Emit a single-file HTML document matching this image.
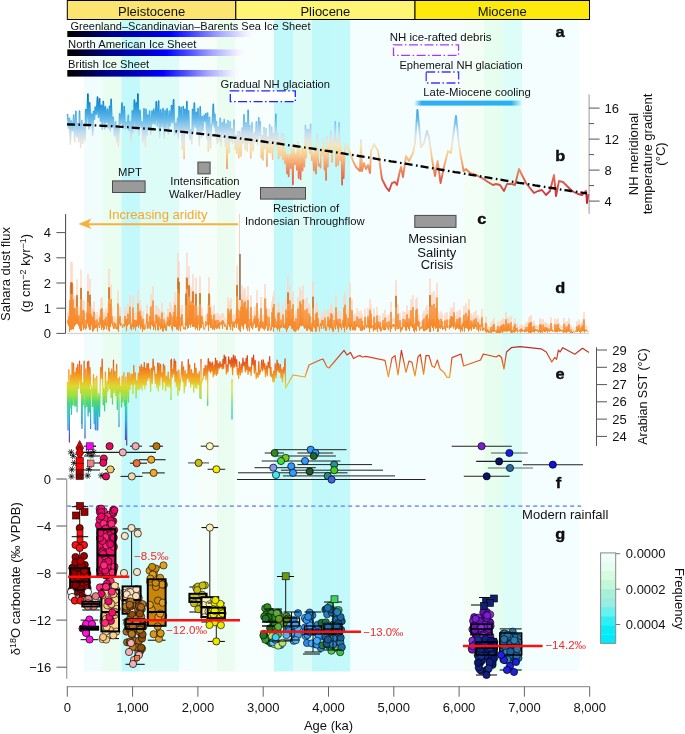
<!DOCTYPE html>
<html><head><meta charset="utf-8"><style>
html,body{margin:0;padding:0;background:#fff;width:685px;height:734px;overflow:hidden}
svg{display:block;will-change:transform;font-variant-ligatures:none;font-family:'Liberation Sans',sans-serif}
</style></head><body>
<svg width="685" height="734" viewBox="0 0 685 734" fill="#111">
<rect x="83.7" y="20" width="18.3" height="651.5" fill="#f1fdfd"/>
<rect x="102" y="20" width="19.5" height="651.5" fill="#eafdf1"/>
<rect x="121.5" y="20" width="18.8" height="651.5" fill="#c3f9fb"/>
<rect x="140.3" y="20" width="38.7" height="651.5" fill="#ddfcf8"/>
<rect x="179" y="20" width="18.6" height="651.5" fill="#f3fefe"/>
<rect x="197.6" y="20" width="19.4" height="651.5" fill="#f5fef8"/>
<rect x="217" y="20" width="18.6" height="651.5" fill="#ebfdf1"/>
<rect x="235.6" y="20" width="38.4" height="651.5" fill="#f7fefe"/>
<rect x="274" y="20" width="19" height="651.5" fill="#c1f9fb"/>
<rect x="293" y="20" width="19" height="651.5" fill="#ddfcf8"/>
<rect x="312" y="20" width="19" height="651.5" fill="#c1f9fb"/>
<rect x="331" y="20" width="19.4" height="651.5" fill="#c4f9fb"/>
<rect x="350.4" y="20" width="113.6" height="651.5" fill="#f5fefe"/>
<rect x="464" y="20" width="20" height="651.5" fill="#f3fef6"/>
<rect x="484" y="20" width="19" height="651.5" fill="#e7fdef"/>
<rect x="503" y="20" width="19" height="651.5" fill="#dcfdf8"/>
<rect x="522" y="20" width="57.6" height="651.5" fill="#f5fefe"/>
<rect x="67.3" y="0.5" width="168.5" height="19" fill="#fbe46f" stroke="#000" stroke-width="1"/>
<text x="151.6" y="15.7" font-size="13.5" text-anchor="middle" textLength="67.2" lengthAdjust="spacingAndGlyphs">Pleistocene</text>
<rect x="235.8" y="0.5" width="179.2" height="19" fill="#fdf573" stroke="#000" stroke-width="1"/>
<text x="325.4" y="15.7" font-size="13.5" text-anchor="middle" textLength="49.9" lengthAdjust="spacingAndGlyphs">Pliocene</text>
<rect x="415" y="0.5" width="174.5" height="19" fill="#fdea0d" stroke="#000" stroke-width="1"/>
<text x="502.2" y="15.7" font-size="13.5" text-anchor="middle" textLength="49.1" lengthAdjust="spacingAndGlyphs">Miocene</text>
<defs><linearGradient id="ice" x1="0" x2="1" y1="0" y2="0"><stop offset="0" stop-color="#000"/><stop offset="0.026" stop-color="#000008"/><stop offset="0.226" stop-color="#000088"/><stop offset="0.437" stop-color="#0000c8"/><stop offset="0.547" stop-color="#0000ff"/><stop offset="0.668" stop-color="#4a4aff"/><stop offset="0.805" stop-color="#a8a8ff"/><stop offset="0.942" stop-color="#f0f0ff"/><stop offset="1" stop-color="#fff" stop-opacity="0"/></linearGradient></defs>
<rect x="67.3" y="31" width="189.7" height="6" fill="url(#ice)"/>
<text x="70.5" y="30.1" font-size="11" textLength="240" lengthAdjust="spacingAndGlyphs">Greenland–Scandinavian–Barents Sea Ice Sheet</text>
<rect x="67.3" y="49.4" width="180.7" height="6.6" fill="url(#ice)"/>
<text x="68.1" y="47.8" font-size="11" textLength="128.4" lengthAdjust="spacingAndGlyphs">North American Ice Sheet</text>
<rect x="67.3" y="70" width="174.7" height="6.6" fill="url(#ice)"/>
<text x="68.1" y="68" font-size="11" textLength="81.1" lengthAdjust="spacingAndGlyphs">British Ice Sheet</text>
<text x="220.5" y="87.6" font-size="11" textLength="109.6" lengthAdjust="spacingAndGlyphs">Gradual NH glaciation</text>
<rect x="230.3" y="90.9" width="65" height="10.8" fill="#fff" stroke="#2222ff" stroke-width="1.3" stroke-dasharray="9 2.5 1.5 2.5"/>
<text x="389.7" y="41" font-size="11" textLength="101.8" lengthAdjust="spacingAndGlyphs">NH ice-rafted debris</text>
<rect x="393.5" y="44.8" width="65" height="10.6" fill="#fff" stroke="#a23cf0" stroke-width="1.3" stroke-dasharray="9 2.5 1.5 2.5"/>
<text x="399.4" y="68.7" font-size="11" textLength="123.3" lengthAdjust="spacingAndGlyphs">Ephemeral NH glaciation</text>
<rect x="426.2" y="72" width="32.4" height="11" fill="#fff" stroke="#3c3cff" stroke-width="1.3" stroke-dasharray="9 2.5 1.5 2.5"/>
<text x="423.3" y="95.6" font-size="11" textLength="107.6" lengthAdjust="spacingAndGlyphs">Late-Miocene cooling</text>
<defs><linearGradient id="cool" x1="0" x2="1" y1="0" y2="0"><stop offset="0" stop-color="#2cb0f2" stop-opacity="0"/><stop offset="0.07" stop-color="#2cb0f2"/><stop offset="0.9" stop-color="#2cb0f2"/><stop offset="1" stop-color="#2cb0f2" stop-opacity="0"/></linearGradient></defs>
<rect x="414" y="100.6" width="108" height="5" fill="url(#cool)"/>
<text transform="translate(555.4,37.2) scale(1.12,1)" font-size="14.6" font-weight="bold" stroke="#000" stroke-width="0.35">a</text>
<defs><linearGradient id="bgrad" gradientUnits="userSpaceOnUse" x1="0" y1="95" x2="0" y2="205"><stop offset="0.000" stop-color="#0a62b0"/><stop offset="0.055" stop-color="#1484cc"/><stop offset="0.136" stop-color="#36a2e0"/><stop offset="0.209" stop-color="#5eb6e8"/><stop offset="0.282" stop-color="#96ccec"/><stop offset="0.345" stop-color="#c6def0"/><stop offset="0.409" stop-color="#e2e4e0"/><stop offset="0.455" stop-color="#eee6cc"/><stop offset="0.500" stop-color="#f8dca0"/><stop offset="0.555" stop-color="#f8c890"/><stop offset="0.618" stop-color="#f4a870"/><stop offset="0.700" stop-color="#ec8058"/><stop offset="0.791" stop-color="#e05a48"/><stop offset="0.882" stop-color="#d43c40"/><stop offset="1.000" stop-color="#c01830"/></linearGradient></defs>
<path d="M67.5 114 L68.5 128.2 L69.5 118.4 L70.4 144.2 L71.3 120.9 L72.6 130.8 L73.7 115.1 L74.7 141.8 L75.9 111.3 L76.8 136.5 L77.8 123.6 L78.6 141.7 L79.5 111 L80.7 147.2 L81.9 120.5 L82.8 143.2 L84 125.4 L85 140.7 L85.7 109.5 L86.7 122.9 L87.9 94 L89 128.9 L89.7 102.8 L90.8 123.9 L91.6 114.1 L92.7 135.3 L93.4 111.4 L94.5 119.1 L95.2 107 L96.3 114.2 L97.5 97.1 L98.4 117.5 L99.6 98.7 L100.4 121.2 L101.4 105.3 L102.2 129.1 L103.3 101.6 L104.6 129.1 L105.3 106.5 L106.5 122.1 L107.4 109.1 L108.4 128.1 L109.5 106.4 L110.3 130.9 L111.1 99.4 L112.1 126.1 L113.2 117.2 L114.5 135.7 L115.6 121.7 L116.8 141.8 L117.6 128.5 L118.4 146.3 L119.6 113.8 L120.8 123.9 L122 103 L123 128.4 L124.2 106.6 L125.3 129.1 L126.3 122.5 L127.2 126.1 L128.3 115.3 L129 130.6 L130 121.5 L131.1 141.9 L132.3 110.8 L133.1 132.8 L134.4 100 L135.5 129.7 L136.3 102.7 L137.1 129.5 L137.9 94 L138.9 135.3 L140 110.3 L141.1 127.3 L142.1 122.1 L143 141.9 L144 108.7 L145.3 146.8 L146 109.3 L147 135.3 L147.7 115.1 L148.5 128.4 L149.6 111.1 L150.7 134.5 L152 111 L153 123.7 L153.8 109.2 L155.1 124.2 L156.2 101.8 L157.3 126.4 L158.6 101 L159.7 137.2 L160.7 109.9 L161.7 126.6 L163 108.5 L164.2 138.5 L165.1 110.5 L165.8 129.1 L167.1 108.9 L168.4 134.1 L169.3 111.1 L170.3 125.8 L171.6 105.6 L172.4 122.8 L173.6 99.7 L174.7 134.6 L176 123.2 L176.9 133.7 L177.6 118.4 L178.4 138.5 L179.1 106.6 L180.1 130.8 L181.1 107.2 L182.2 149.2 L183.2 106.5 L184.1 158.6 L184.9 109.2 L185.8 131.9 L186.9 101.6 L187.6 133.2 L188.6 110.9 L189.7 139.4 L190.7 129.5 L191.8 143.9 L192.5 109.4 L193.3 131.3 L194.3 103.1 L195.4 127.1 L196.4 112.2 L197.2 132 L198 108.5 L199.2 145.3 L200.2 106.7 L201.4 137.8 L202.2 116.5 L202.9 130.4 L204.1 115.3 L204.9 120.9 L205.8 113.5 L206.9 138.6 L207.6 113.1 L208.3 151 L209.5 117.4 L210.6 148 L211.4 125 L212.2 124.1 L213.3 104.4 L214.2 126.8 L214.9 114.2 L215.7 133.9 L216.5 121.6 L217.2 143.6 L218.3 127 L219.2 141.3 L220.2 118.3 L221 146.3 L222.2 122.5 L223.3 134.2 L224.2 119.6 L225.4 146.3 L226.2 123.7 L227 168.4 L228 120.5 L228.9 152.4 L230.1 121.7 L231 141.6 L231.8 129.1 L232.8 143.5 L234 120.1 L235.2 149.2 L236 135.8 L236.7 153.2 L237.8 131.6 L238.8 157.7 L239.8 131.6 L241 156.3 L242.1 128 L242.9 143.8 L244 114.7 L245.2 149.3 L246 122.5 L247.2 150.9 L248.1 110.3 L249.3 143.3 L250 125.5 L250.8 158.1 L252 122.8 L253.1 150.8 L254.4 132.9 L255.2 141.8 L256.4 121.9 L257.7 145 L258.8 117.8 L259.5 135.2 L260.3 122 L261.2 157.7 L262 135.3 L263 159.9 L264 127.6 L265.1 148.7 L266.1 128.8 L266.9 166.2 L267.8 137.1 L268.9 152.4 L269.7 124.8 L270.6 153 L271.8 127.4 L272.7 159.2 L273.6 133.3 L274.7 145.6 L275.9 114.4 L276.7 148.1 L277.6 132.8 L278.6 158.5 L279.4 140.8 L280.6 155.4 L281.6 133 L282.8 159.7 L283.9 134.3 L285 163.1 L285.8 152.4 L287 173.5 L287.8 154.8 L288.6 176.4 L289.8 154.7 L290.9 168.1 L291.8 144.3 L292.9 184.5 L293.8 148.2 L294.9 164.4 L296 153.6 L296.8 170 L297.8 141.7 L298.6 178.1 L299.4 149.5 L300.6 179.5 L301.7 146.6 L302.6 170.8 L303.3 148.4 L304.4 166.7 L305.4 125.5 L306.2 157.8 L307.2 129.3 L307.9 147.9 L308.8 129.9 L309.8 153.2 L310.6 124.4 L311.6 160.1 L312.7 153.2 L313.9 170.6 L314.9 147.7 L316 173.7 L317.2 134.3 L318.5 165.9 L319.8 164 L320.5 167.7 L321.3 149.5 L322.2 155.2 L323.4 138.1 L324.5 169.7 L325.2 149 L326.1 180.1 L326.8 136.3 L327.8 166.7 L328.6 142.3 L329.7 150.4 L330.8 131.8 L332.1 161.8 L333 138.8 L334.2 148.5 L335.3 121.9 L336.1 166.2 L337.2 139.6 L338.3 165 L339.1 122.8 L340.1 160.1 L341.2 146 L342.1 184.8 L343 153.9 L343.7 178.3 L344.9 148.1 L345 143" fill="none" stroke="url(#bgrad)" stroke-width="1.6" stroke-linejoin="round"/>
<path d="M345 143 L348 147 L353 161 L356 167 L360 171 L361 140 L362 171 L364 163 L366 169 L368 165 L370 173 L371 151 L374 144 L378 151 L380 165 L382 179 L386 187 L389 191 L392 183 L395 182 L397 185 L399 175 L401 167 L403 177 L406 156 L409 161 L413 153 L415 143 L417.4 110 L419 125 L421 147 L424 143 L427 131 L429 137 L432 159 L435 176 L437.6 161 L440.6 183 L444 167 L448 151 L451 153 L453 137 L456 116 L459 145 L461 157 L463.6 171 L466 169 L470 173 L476 175 L482 178 L488 182 L493 185 L496 184 L500 185 L504 191 L507 184 L512 184 L515 185 L519 169 L526 183 L530 188 L534 193 L538 191 L542 190 L546 195 L550 191 L554 175 L556 196 L559 181 L563 182 L568 187 L572 191 L578 194 L582 195 L586 191 L587 203 L588.5 194" fill="none" stroke="url(#bgrad)" stroke-width="1.9" stroke-linejoin="round"/>
<path d="M67 124.4 L71 124.5 L75 124.6 L79 124.7 L83 124.9 L87 125 L91 125.2 L95 125.4 L99 125.6 L103 125.8 L107 126 L111 126.2 L115 126.4 L119 126.7 L123 126.9 L127 127.2 L131 127.5 L135 127.8 L139 128.1 L143 128.4 L147 128.7 L151 129 L155 129.4 L159 129.7 L163 130 L167 130.4 L171 130.8 L175 131.2 L179 131.6 L183 131.9 L187 132.4 L191 132.8 L195 133.2 L199 133.6 L203 134.1 L207 134.5 L211 135 L215 135.4 L219 135.9 L223 136.4 L227 136.9 L231 137.3 L235 137.8 L239 138.3 L243 138.9 L247 139.4 L251 139.9 L255 140.4 L259 141 L263 141.5 L267 142.1 L271 142.6 L275 143.2 L279 143.7 L283 144.3 L287 144.9 L291 145.5 L295 146 L299 146.6 L303 147.2 L307 147.8 L311 148.4 L315 149 L319 149.7 L323 150.3 L327 150.9 L331 151.5 L335 152.1 L339 152.8 L343 153.4 L347 154.1 L351 154.7 L355 155.3 L359 156 L363 156.6 L367 157.3 L371 157.9 L375 158.6 L379 159.3 L383 159.9 L387 160.6 L391 161.3 L395 161.9 L399 162.6 L403 163.3 L407 163.9 L411 164.6 L415 165.3 L419 166 L423 166.6 L427 167.3 L431 168 L435 168.7 L439 169.3 L443 170 L447 170.7 L451 171.4 L455 172.1 L459 172.7 L463 173.4 L467 174.1 L471 174.8 L475 175.4 L479 176.1 L483 176.8 L487 177.4 L491 178.1 L495 178.8 L499 179.5 L503 180.1 L507 180.8 L511 181.4 L515 182.1 L519 182.8 L523 183.4 L527 184.1 L531 184.7 L535 185.4 L539 186 L543 186.6 L547 187.3 L551 187.9 L555 188.5 L559 189.2 L563 189.8 L567 190.4 L571 191 L575 191.6 L579 192.2 L583 192.8 L587 193.4" fill="none" stroke="#000" stroke-width="2.3" stroke-dasharray="8 3.5 1.6 3.1"/>
<line x1="589.1" y1="94.4" x2="589.1" y2="213.8" stroke="#999" stroke-width="1"/>
<line x1="589.1" y1="201.1" x2="599.6" y2="201.1" stroke="#555" stroke-width="1"/>
<text x="604.5" y="205.7" font-size="13">4</text>
<line x1="589.1" y1="185.6" x2="594.1" y2="185.6" stroke="#555" stroke-width="1"/>
<line x1="589.1" y1="170.1" x2="599.6" y2="170.1" stroke="#555" stroke-width="1"/>
<text x="604.5" y="174.7" font-size="13">8</text>
<line x1="589.1" y1="154.6" x2="594.1" y2="154.6" stroke="#555" stroke-width="1"/>
<line x1="589.1" y1="139.1" x2="599.6" y2="139.1" stroke="#555" stroke-width="1"/>
<text x="604.5" y="143.7" font-size="13">12</text>
<line x1="589.1" y1="123.6" x2="594.1" y2="123.6" stroke="#555" stroke-width="1"/>
<line x1="589.1" y1="108.1" x2="599.6" y2="108.1" stroke="#555" stroke-width="1"/>
<text x="604.5" y="112.7" font-size="13">16</text>
<g font-size="13" text-anchor="middle"><text transform="translate(637.5,154) rotate(-90)">NH meridional</text><text transform="translate(651.5,154) rotate(-90)">temperature gradient</text><text transform="translate(665,154) rotate(-90)">(°C)</text></g>
<text transform="translate(555.2,160.8) scale(1.12,1)" font-size="14.6" font-weight="bold" stroke="#000" stroke-width="0.35">b</text>
<rect x="112.5" y="180.9" width="32.6" height="11.6" fill="#9a9a9a" stroke="#4a4a4a" stroke-width="1"/>
<rect x="197.9" y="162.1" width="12.2" height="11.8" fill="#9a9a9a" stroke="#4a4a4a" stroke-width="1"/>
<rect x="260.5" y="187.5" width="45" height="11.6" fill="#9a9a9a" stroke="#4a4a4a" stroke-width="1"/>
<rect x="414.8" y="215.4" width="41.2" height="12" fill="#9a9a9a" stroke="#4a4a4a" stroke-width="1"/>
<text x="118.1" y="176" font-size="11" textLength="23.8" lengthAdjust="spacingAndGlyphs">MPT</text>
<text x="170.3" y="185.1" font-size="11" textLength="69.3" lengthAdjust="spacingAndGlyphs">Intensification</text>
<text x="169" y="197.6" font-size="11" textLength="71.9" lengthAdjust="spacingAndGlyphs">Walker/Hadley</text>
<text x="273.1" y="212.4" font-size="11" textLength="66" lengthAdjust="spacingAndGlyphs">Restriction of</text>
<text x="244.9" y="225" font-size="11" textLength="119.6" lengthAdjust="spacingAndGlyphs">Indonesian Throughflow</text>
<text x="408.3" y="243.2" font-size="12.5" textLength="58.2" lengthAdjust="spacingAndGlyphs">Messinian</text>
<text x="417.3" y="256.8" font-size="12.5" textLength="39.1" lengthAdjust="spacingAndGlyphs">Salinty</text>
<text x="420.7" y="269.2" font-size="12.5" textLength="32.4" lengthAdjust="spacingAndGlyphs">Crisis</text>
<text transform="translate(477.2,224.4) scale(1.12,1)" font-size="14.6" font-weight="bold" stroke="#000" stroke-width="0.35">c</text>
<text x="108.5" y="218.6" font-size="13" textLength="99" lengthAdjust="spacingAndGlyphs" fill="#f7a823">Increasing aridity</text>
<line x1="88" y1="224.2" x2="238" y2="224.2" stroke="#f9b03c" stroke-width="2"/>
<path d="M78.4 223.9 L91.4 218.6 L88.2 224 L91.4 229 Z" fill="#f9b03c"/>
<line x1="67" y1="333.4" x2="589" y2="333.4" stroke="#cfcfcf" stroke-width="1"/>
<path d="M67.5 317.5 L68 312.1 L68.5 320.7 L69 307.6 L69.5 328.7 L70 286 L70.5 325.6 L71 261.9 L71.5 326.2 L72 262.4 L72.5 325.1 L73 284.9 L73.5 325.6 L74 296.2 L74.5 321.4 L75 296.5 L75.5 319.1 L76 306.5 L76.5 317.7 L77 279.3 L77.5 318 L78 308.7 L78.5 320.2 L79 306.4 L79.5 324.5 L80 315 L80.5 327.7 L81 269.5 L81.5 327.8 L82 318.8 L82.5 318.8 L83 299.2 L83.5 325.8 L84 300.8 L84.5 323.4 L85 322.6 L85.5 325.6 L86 312.9 L86.5 324 L87 302.8 L87.5 317.6 L88 273.9 L88.5 322.5 L89 303.4 L89.5 326 L90 278.8 L90.5 326 L91 305 L91.5 319.7 L92 308 L92.5 328.4 L93 309.2 L93.5 327.7 L94 301.7 L94.5 324.7 L95 313.2 L95.5 323.5 L96 318.8 L96.5 322.9 L97 312.1 L97.5 328.4 L98 315.6 L98.5 319.2 L99 320.2 L99.5 323.5 L100 309.1 L100.5 319.2 L101 298.4 L101.5 326.4 L102 297.1 L102.5 323 L103 312.6 L103.5 326.5 L104 314.4 L104.5 325.3 L105 311.7 L105.5 320 L106 308.7 L106.5 325.3 L107 316.8 L107.5 320.6 L108 303.2 L108.5 326.9 L109 268.8 L109.5 328.1 L110 291.3 L110.5 322.4 L111 284.6 L111.5 317.6 L112 307.8 L112.5 320.5 L113 320.4 L113.5 324.7 L114 315.8 L114.5 320.8 L115 324.6 L115.5 317.7 L116 318 L116.5 325.2 L117 322.7 L117.5 325.5 L118 290.7 L118.5 328.7 L119 310.9 L119.5 317.9 L120 307.2 L120.5 320.7 L121 317.2 L121.5 319.2 L122 319.1 L122.5 323.6 L123 320.2 L123.5 318.2 L124 320.4 L124.5 322.3 L125 307.4 L125.5 319.3 L126 311.4 L126.5 327.8 L127 311.6 L127.5 321 L128 304.3 L128.5 318.7 L129 317.3 L129.5 317.6 L130 294.9 L130.5 324.5 L131 316.6 L131.5 326.6 L132 319.8 L132.5 321.8 L133 295.9 L133.5 325.1 L134 312.7 L134.5 322.4 L135 313 L135.5 326.8 L136 312.6 L136.5 322.1 L137 313.9 L137.5 320.7 L138 290.5 L138.5 323.6 L139 302.3 L139.5 319 L140 300.2 L140.5 325.1 L141 307.2 L141.5 322.6 L142 314 L142.5 328.6 L143 311 L143.5 325.4 L144 318.9 L144.5 325.7 L145 325.8 L145.5 324.2 L146 319 L146.5 317.4 L147 304.5 L147.5 324.8 L148 315 L148.5 320.1 L149 324.1 L149.5 318.8 L150 307.3 L150.5 325.6 L151 294.5 L151.5 319.1 L152 316.2 L152.5 321 L153 286.4 L153.5 326 L154 314.2 L154.5 322.5 L155 320.1 L155.5 326.8 L156 305.6 L156.5 317.7 L157 306.2 L157.5 326.1 L158 311.6 L158.5 327.1 L159 308.4 L159.5 320.8 L160 317.8 L160.5 325.4 L161 311.2 L161.5 324 L162 302.8 L162.5 328.1 L163 319.1 L163.5 328 L164 312 L164.5 323.7 L165 317.3 L165.5 326.6 L166 319.8 L166.5 327.1 L167 314.8 L167.5 320.1 L168 308.5 L168.5 320.8 L169 312.7 L169.5 321.8 L170 302.4 L170.5 319.2 L171 305.1 L171.5 324.4 L172 321 L172.5 327.7 L173 308.1 L173.5 320.6 L174 302 L174.5 322.1 L175 292.4 L175.5 322.2 L176 315.8 L176.5 325.5 L177 308.4 L177.5 325.5 L178 252.8 L178.5 327.1 L179 261.4 L179.5 319.6 L180 323.3 L180.5 327.9 L181 308.8 L181.5 321 L182 305.1 L182.5 319.7 L183 319.7 L183.5 325.1 L184 324.3 L184.5 323 L185 325.5 L185.5 326.2 L186 277.3 L186.5 320.4 L187 252.8 L187.5 324.6 L188 310.8 L188.5 323.3 L189 266 L189.5 318.9 L190 292.2 L190.5 322.7 L191 287.4 L191.5 318.4 L192 292.5 L192.5 322.2 L193 274.2 L193.5 321.7 L194 292.8 L194.5 321.8 L195 315.8 L195.5 325.5 L196 277.6 L196.5 323.4 L197 308.3 L197.5 326.6 L198 306.3 L198.5 318.2 L199 317.5 L199.5 326.9 L200 276.5 L200.5 324 L201 306.9 L201.5 322.9 L202 308.3 L202.5 317.9 L203 315.9 L203.5 324.2 L204 325.9 L204.5 325.6 L205 323 L205.5 321.1 L206 314.4 L206.5 320.2 L207 319.1 L207.5 318.6 L208 304.2 L208.5 327.6 L209 277.2 L209.5 319.1 L210 295.5 L210.5 323.3 L211 306.2 L211.5 322.9 L212 311.4 L212.5 325.9 L213 320.1 L213.5 324.5 L214 305.6 L214.5 326.6 L215 314.5 L215.5 323 L216 312.8 L216.5 324.8 L217 318.6 L217.5 324 L218 312.9 L218.5 322.8 L219 316.7 L219.5 325 L220 314.9 L220.5 319.6 L221 318.1 L221.5 318.4 L222 313.6 L222.5 324.8 L223 313 L223.5 318 L224 315.8 L224.5 321.7 L225 321.3 L225.5 318.8 L226 321.5 L226.5 326 L227 320.9 L227.5 325.6 L228 297.5 L228.5 318.7 L229 304.8 L229.5 322.3 L230 300.7 L230.5 326.3 L231 298 L231.5 317.6 L232 316.6 L232.5 327.1 L233 314.6 L233.5 321.7 L234 316.3 L234.5 323.6 L235 314.5 L235.5 317.4 L236 310.9 L236.5 322.9 L237 265.7 L237.5 317.6 L238 298.5 L238.5 325.2 L239 309.8 L239.5 327 L240 300.2 L240.5 328.4 L241 294.7 L241.5 320.2 L242 285.3 L242.5 322.4 L243 294.3 L243.5 325.6 L244 289.3 L244.5 318.6 L245 287.7 L245.5 317.6 L246 299.5 L246.5 324.3 L247 296.3 L247.5 327.3 L248 286.2 L248.5 323 L249 323.7 L249.5 328.1 L250 311.4 L250.5 320.7 L251 295.4 L251.5 323.8 L252 315.2 L252.5 325.3 L253 321.8 L253.5 319.5 L254 310.9 L254.5 317.9 L255 306.8 L255.5 323.4 L256 310.7 L256.5 322.9 L257 290.2 L257.5 321.6 L258 310.8 L258.5 327.8 L259 318.4 L259.5 327.5 L260 314.7 L260.5 324.1 L261 297 L261.5 322.7 L262 314.7 L262.5 324 L263 315.1 L263.5 325.2 L264 320.2 L264.5 326.6 L265 284 L265.5 324.3 L266 297.7 L266.5 320.9 L267 307.2 L267.5 327.1 L268 324.8 L268.5 326.9 L269 309 L269.5 321.8 L270 321.4 L270.5 327.2 L271 324.4 L271.5 325.6 L272 302.1 L272.5 322 L273 295.9 L273.5 328.4 L274 291.2 L274.5 323.4 L275 310.2 L275.5 322.4 L276 319.7 L276.5 323.9 L277 314.3 L277.5 326.5 L278 303.1 L278.5 324.5 L279 302.7 L279.5 328.1 L280 319.7 L280.5 323.7 L281 312.2 L281.5 323 L282 322.9 L282.5 320.4 L283 305.5 L283.5 323.5 L284 319.8 L284.5 323.9 L285 317.7 L285.5 324.7 L286 298.9 L286.5 328.8 L287 309.8 L287.5 326.1 L288 275.7 L288.5 323 L289 301 L289.5 320.9 L290 286.2 L290.5 320.3 L291 310.7 L291.5 325.1 L292 297.7 L292.5 324.3 L293 291.7 L293.5 327.5 L294 315.1 L294.5 328.1 L295 314.8 L295.5 328.4 L296 310.6 L296.5 327.1 L297 322.6 L297.5 324.9 L298 297.2 L298.5 326.7 L299 322.2 L299.5 323.2 L300 287.4 L300.5 320.5 L301 290.9 L301.5 321.1 L302 311.9 L302.5 319.8 L303 285.2 L303.5 321.4 L304 321.7 L304.5 324.4 L305 299.4 L305.5 323.2 L306 318.9 L306.5 327.1 L307 297.5 L307.5 327.2 L308 318.8 L308.5 324.2 L309 303.9 L309.5 325.5 L310 307.5 L310.5 328.1 L311 321.6 L311.5 327.9 L312 317 L312.5 328.4 L313 281.3 L313.5 321.9 L314 322.2 L314.5 323.7 L315 312.9 L315.5 328.5 L316 304 L316.5 328 L317 302.4 L317.5 321.7 L318 310.2 L318.5 319.9 L319 322.2 L319.5 328.1 L320 319.2 L320.5 320.4 L321 316.6 L321.5 324.8 L322 312.6 L322.5 319.8 L323 313.1 L323.5 324.5 L324 324.1 L324.5 321.9 L325 309.5 L325.5 326.9 L326 322.2 L326.5 327 L327 320.2 L327.5 321 L328 308.3 L328.5 322.4 L329 313.3 L329.5 326.6 L330 311 L330.5 323.1 L331 303.6 L331.5 324.4 L332 305.4 L332.5 328.2 L333 322.8 L333.5 328.2 L334 312.9 L334.5 321 L335 323.2 L335.5 325.4 L336 295.5 L336.5 319.8 L337 313.5 L337.5 324.4 L338 311.5 L338.5 328.8 L339 317.3 L339.5 321.7 L340 311.3 L340.5 322.9 L341 317.4 L341.5 326.4 L342 322 L342.5 320.9 L343 313.1 L343.5 323.1 L344 296.2 L344.5 329.2 L345 292.1 L345.5 321.3 L346 305.4 L346.5 326.2 L347 323.7 L347.5 323.2 L348 310.1 L348.5 321.3 L349 316.7 L349.5 325.2 L350 282.5 L350.5 327.7 L351 318 L351.5 322.1 L352 299.3 L352.5 326.5 L353 321.4 L353.5 325.8 L354 314.7 L354.5 326.7 L355 313.8 L355.5 326.7 L356 319.8 L356.5 322 L357 308 L357.5 320.9 L358 321.6 L358.5 322.9 L359 310.9 L359.5 322.7 L360 323.8 L360.5 327.1 L361 310.6 L361.5 327.1 L362 314 L362.5 327 L363 320.3 L363.5 324.8 L364 321.7 L364.5 326.4 L365 308.9 L365.5 321.6 L366 318.9 L366.5 323.8 L367 321.8 L367.5 321.9 L368 307.8 L368.5 323 L369 312.5 L369.5 329.3 L370 299.1 L370.5 323.9 L371 304.5 L371.5 323.7 L372 324 L372.5 321.6 L373 319.5 L373.5 328.1 L374 308.4 L374.5 325.9 L375 316.5 L375.5 325.6 L376 325.7 L376.5 325 L377 307 L377.5 328.7 L378 314.8 L378.5 322.8 L379 318.6 L379.5 325 L380 315.4 L380.5 328.2 L381 322.2 L381.5 327.1 L382 324 L382.5 322.1 L383 313.1 L383.5 326 L384 320.4 L384.5 326.5 L385 309.7 L385.5 326.5 L386 320.8 L386.5 321 L387 315.6 L387.5 323.6 L388 323.4 L388.5 326.6 L389 314.6 L389.5 322.2 L390 321.2 L390.5 329.2 L391 301.8 L391.5 324.6 L392 322.3 L392.5 321.7 L393 318.1 L393.5 321.7 L394 318.3 L394.5 322 L395 323.1 L395.5 327.5 L396 280.2 L396.5 321.4 L397 325 L397.5 322.8 L398 304.4 L398.5 325 L399 324.1 L399.5 321.7 L400 312.9 L400.5 329.2 L401 322.3 L401.5 326.7 L402 322.5 L402.5 325.2 L403 311.3 L403.5 321 L404 322.5 L404.5 321.6 L405 311.9 L405.5 326.5 L406 315.3 L406.5 327.7 L407 305.3 L407.5 322.4 L408 318 L408.5 324.7 L409 310.9 L409.5 327.7 L410 314.9 L410.5 321 L411 299.3 L411.5 321.3 L412 320.1 L412.5 323.5 L413 295.2 L413.5 327.6 L414 319.5 L414.5 329.3 L415 316.8 L415.5 325.9 L416 299.4 L416.5 328 L417 297.6 L417.5 320.7 L418 313.8 L418.5 322.2 L419 315.3 L419.5 327.3 L420 322.3 L420.5 324.4 L421 324 L421.5 320.8 L422 324.6 L422.5 321.4 L423 313.3 L423.5 327.8 L424 310.7 L424.5 327.5 L425 327.3 L425.5 326.7 L426 307.6 L426.5 326.2 L427 305.1 L427.5 324.8 L428 315.8 L428.5 323.7 L429 310.6 L429.5 328.7 L430 278.6 L430.5 328.9 L431 313.5 L431.5 320.7 L432 292.9 L432.5 323.6 L433 311.5 L433.5 327.7 L434 291.1 L434.5 321.6 L435 315.8 L435.5 324.7 L436 296.7 L436.5 323.4 L437 282.5 L437.5 328.8 L438 310.8 L438.5 328.2 L439 312.9 L439.5 323.2 L440 319.5 L440.5 324.5 L441 311.4 L441.5 322.8 L442 314.1 L442.5 325.9 L443 321.3 L443.5 324.9 L444 324.1 L444.5 324.3 L445 313.4 L445.5 327.6 L446 322.1 L446.5 322.2 L447 312.2 L447.5 323.3 L448 320.9 L448.5 320.9 L449 321.3 L449.5 325.3 L450 311.6 L450.5 323.3 L451 307.4 L451.5 322.5 L452 308.2 L452.5 321.2 L453 308.7 L453.5 324.1 L454 302.6 L454.5 320.8 L455 322.7 L455.5 326.1 L456 315.9 L456.5 324.5 L457 311.6 L457.5 322.8 L458 318.2 L458.5 324.9 L459 310.5 L459.5 325.1 L460 309.4 L460.5 329.3 L461 321.4 L461.5 326.3 L462 318.8 L462.5 328.1 L463 316.6 L463.5 321.7 L464 305.9 L464.5 328.5 L465 313.6 L465.5 323.5 L466 303.3 L466.5 323.1 L467 312.7 L467.5 324.5 L468 307.8 L468.5 328.2 L469 299.1 L469.5 325.9 L470 319.9 L470.5 324.4 L471 313.5 L471.5 327.1 L472 314.7 L472.5 321.8 L473 319.5 L473.5 324.6 L474 312.1 L474.5 324.4 L475 317 L475.5 322 L476 310.4 L476.5 322.5 L477 326.1 L477.5 321.5 L478 315.3 L478.5 328.6 L479 318.5 L479.5 320.9 L480 324.9 L480.5 327.3 L481 318.9 L481.5 321.8 L482 309.1 L482.5 327 L483 324.1 L483.5 326.8 L484 323 L484.5 324.7 L485 325.6 L485.5 328.4 L486 316.7 L486.5 329.8 L487 324.7 L487.5 328.9 L488 326.1 L488.5 329.8 L489 327.1 L489.5 328.9 L490 330.2 L490.5 327.7 L491 322.2 L491.5 330 L492 326.2 L492.5 328.4 L493 320.3 L493.5 328.4 L494 318.1 L494.5 328.1 L495 326.3 L495.5 328.8 L496 328.2 L496.5 330.1 L497 325.8 L497.5 330.2 L498 320.9 L498.5 329.9 L499 326 L499.5 330.1 L500 322.6 L500.5 330.1 L501 320.2 L501.5 328.3 L502 320.4 L502.5 329.8 L503 318.5 L503.5 328.1 L504 318.9 L504.5 328.1 L505 322.9 L505.5 328.1 L506 311.9 L506.5 328 L507 321 L507.5 328.5 L508 317.1 L508.5 327.2 L509 318.4 L509.5 327.6 L510 322.7 L510.5 329.3 L511 315.9 L511.5 330.3 L512 326 L512.5 329.7 L513 327 L513.5 329.1 L514 321.5 L514.5 329.5 L515 318.3 L515.5 328.6 L516 324 L516.5 327.2 L517 323.2 L517.5 329.3 L518 327.4 L518.5 328 L519 327.7 L519.5 327.7 L520 325.2 L520.5 329.6 L521 324.4 L521.5 328.2 L522 324.6 L522.5 328.2 L523 326.3 L523.5 327.6 L524 326.5 L524.5 329.2 L525 325.1 L525.5 328.6 L526 322.4 L526.5 328.4 L527 327.4 L527.5 327.8 L528 322 L528.5 329.8 L529 317.6 L529.5 329.7 L530 316.4 L530.5 330.3 L531 315.3 L531.5 329.5 L532 321.6 L532.5 328.6 L533 325.9 L533.5 329 L534 320.8 L534.5 329.5 L535 324.4 L535.5 327.6 L536 325.7 L536.5 327.8 L537 325.2 L537.5 328.3 L538 328.2 L538.5 329.4 L539 326.2 L539.5 329.1 L540 318.3 L540.5 330.1 L541 319.2 L541.5 328.9 L542 327.4 L542.5 330.2 L543 319 L543.5 327.4 L544 324.6 L544.5 328.9 L545 322.4 L545.5 329.1 L546 322.8 L546.5 327.2 L547 323.1 L547.5 329.7 L548 325.2 L548.5 327.5 L549 324.1 L549.5 329.1 L550 327 L550.5 327.3 L551 316.9 L551.5 327.5 L552 325.1 L552.5 328.6 L553 327.4 L553.5 327.3 L554 328.1 L554.5 327.9 L555 318.5 L555.5 329.2 L556 323.9 L556.5 328.7 L557 319.8 L557.5 329.2 L558 318 L558.5 327.6 L559 323.4 L559.5 328.2 L560 324.7 L560.5 328.1 L561 325.9 L561.5 327.8 L562 326.1 L562.5 328.3 L563 327.5 L563.5 329.9 L564 317.9 L564.5 329.1 L565 326.7 L565.5 329.2 L566 321.7 L566.5 330.1 L567 324.6 L567.5 328.4 L568 320.8 L568.5 328.4 L569 318 L569.5 328.1 L570 327.5 L570.5 330.3 L571 325.4 L571.5 330 L572 329 L572.5 330.1 L573 327.7 L573.5 327.3 L574 328.8 L574.5 329.7 L575 328.8 L575.5 328.4 L576 326.4 L576.5 328.4 L577 321.3 L577.5 329 L578 323.2 L578.5 327.2 L579 319.5 L579.5 329.1 L580 325.4 L580.5 330 L581 323 L581.5 328.2 L582 321.5 L582.5 327.9 L583 319.2 L583.5 328.1 L584 312 L584.5 329.5 L585 326.8 L585.5 327.8 L586 325.1 L586.5 327.7 L587 328.4 L587.5 327.9 L588 328.3 L588.5 327.3" fill="none" stroke="#fdd8c6" stroke-width="1"/>
<path d="M67.5 323.5 L68 319.5 L68.5 325.8 L69 316.2 L69.5 331.8 L70 300.2 L70.5 329.5 L71 282.3 L71.5 330 L72 282.7 L72.5 329.1 L73 299.3 L73.5 329.5 L74 307.7 L74.5 326.4 L75 308 L75.5 324.7 L76 315.3 L76.5 323.7 L77 295.2 L77.5 323.8 L78 317 L78.5 325.5 L79 315.2 L79.5 328.7 L80 321.7 L80.5 331.1 L81 287.9 L81.5 331.1 L82 324.5 L82.5 324.4 L83 309.9 L83.5 329.7 L84 311.1 L84.5 327.9 L85 327.3 L85.5 329.5 L86 320 L86.5 328.3 L87 312.6 L87.5 323.5 L88 291.2 L88.5 327.2 L89 313 L89.5 329.8 L90 294.8 L90.5 329.8 L91 314.3 L91.5 325.1 L92 316.5 L92.5 331.6 L93 317.4 L93.5 331 L94 311.8 L94.5 328.9 L95 320.3 L95.5 327.9 L96 324.4 L96.5 327.5 L97 319.5 L97.5 331.5 L98 322.1 L98.5 324.8 L99 325.5 L99.5 328 L100 317.2 L100.5 324.7 L101 309.4 L101.5 330 L102 308.3 L102.5 327.6 L103 319.9 L103.5 330.2 L104 321.2 L104.5 329.2 L105 319.2 L105.5 325.3 L106 317 L106.5 329.2 L107 323 L107.5 325.8 L108 312.9 L108.5 330.4 L109 287.4 L109.5 331.3 L110 304.1 L110.5 327.1 L111 299.1 L111.5 323.5 L112 316.3 L112.5 325.7 L113 325.7 L113.5 328.8 L114 322.2 L114.5 325.9 L115 328.7 L115.5 323.6 L116 323.9 L116.5 329.2 L117 327.4 L117.5 329.4 L118 303.6 L118.5 331.8 L119 318.6 L119.5 323.8 L120 315.9 L120.5 325.8 L121 323.3 L121.5 324.7 L122 324.7 L122.5 328 L123 325.5 L123.5 324 L124 325.6 L124.5 327 L125 316 L125.5 324.8 L126 319 L126.5 331.1 L127 319.1 L127.5 326.1 L128 313.7 L128.5 324.4 L129 323.3 L129.5 323.6 L130 306.7 L130.5 328.7 L131 322.9 L131.5 330.2 L132 325.2 L132.5 326.7 L133 307.5 L133.5 329.1 L134 319.9 L134.5 327.1 L135 320.2 L135.5 330.4 L136 319.9 L136.5 326.9 L137 320.9 L137.5 325.8 L138 303.5 L138.5 328 L139 312.2 L139.5 324.6 L140 310.7 L140.5 329.1 L141 315.8 L141.5 327.2 L142 320.9 L142.5 331.7 L143 318.6 L143.5 329.3 L144 324.5 L144.5 329.5 L145 329.7 L145.5 328.4 L146 324.6 L146.5 323.4 L147 313.9 L147.5 328.9 L148 321.7 L148.5 325.4 L149 328.4 L149.5 324.4 L150 315.9 L150.5 329.5 L151 306.5 L151.5 324.6 L152 322.5 L152.5 326.1 L153 300.5 L153.5 329.8 L154 321 L154.5 327.2 L155 325.4 L155.5 330.4 L156 314.7 L156.5 323.7 L157 315.1 L157.5 329.8 L158 319.1 L158.5 330.6 L159 316.7 L159.5 325.9 L160 323.7 L160.5 329.3 L161 318.9 L161.5 328.3 L162 312.6 L162.5 331.3 L163 324.7 L163.5 331.3 L164 319.4 L164.5 328 L165 323.3 L165.5 330.2 L166 325.2 L166.5 330.6 L167 321.5 L167.5 325.4 L168 316.8 L168.5 325.9 L169 319.9 L169.5 326.6 L170 312.3 L170.5 324.8 L171 314.3 L171.5 328.6 L172 326 L172.5 331.1 L173 316.5 L173.5 325.8 L174 312 L174.5 326.9 L175 304.9 L175.5 327 L176 322.2 L176.5 329.4 L177 316.7 L177.5 329.4 L178 277.8 L178.5 330.6 L179 281.9 L179.5 325.1 L180 327.8 L180.5 331.2 L181 317 L181.5 326 L182 314.3 L182.5 325.1 L183 325.1 L183.5 329.1 L184 328.6 L184.5 327.5 L185 329.4 L185.5 329.9 L186 293.7 L186.5 325.6 L187 277.8 L187.5 328.7 L188 318.5 L188.5 327.8 L189 285.3 L189.5 324.5 L190 304.8 L190.5 327.4 L191 301.2 L191.5 324.2 L192 305 L192.5 327 L193 291.4 L193.5 326.6 L194 305.2 L194.5 326.7 L195 322.2 L195.5 329.4 L196 293.9 L196.5 327.9 L197 316.7 L197.5 330.2 L198 315.2 L198.5 324 L199 323.5 L199.5 330.4 L200 293.1 L200.5 328.3 L201 315.6 L201.5 327.5 L202 316.7 L202.5 323.8 L203 322.3 L203.5 328.5 L204 329.7 L204.5 329.5 L205 327.6 L205.5 326.2 L206 321.2 L206.5 325.5 L207 324.7 L207.5 324.3 L208 313.6 L208.5 331 L209 293.6 L209.5 324.7 L210 307.2 L210.5 327.8 L211 315.1 L211.5 327.5 L212 319 L212.5 329.7 L213 325.5 L213.5 328.7 L214 314.7 L214.5 330.2 L215 321.3 L215.5 327.6 L216 320 L216.5 328.9 L217 324.3 L217.5 328.3 L218 320 L218.5 327.4 L219 322.9 L219.5 329.1 L220 321.6 L220.5 325 L221 323.9 L221.5 324.1 L222 320.6 L222.5 328.9 L223 320.2 L223.5 323.8 L224 322.2 L224.5 326.6 L225 326.3 L225.5 324.5 L226 326.5 L226.5 329.8 L227 326 L227.5 329.5 L228 308.7 L228.5 324.4 L229 314.1 L229.5 327 L230 311 L230.5 330 L231 309 L231.5 323.5 L232 322.8 L232.5 330.6 L233 321.3 L233.5 326.6 L234 322.6 L234.5 328 L235 321.3 L235.5 323.4 L236 318.6 L236.5 327.5 L237 285.1 L237.5 323.6 L238 309.4 L238.5 329.2 L239 317.8 L239.5 330.5 L240 310.7 L240.5 331.6 L241 306.6 L241.5 325.5 L242 299.6 L242.5 327.1 L243 306.3 L243.5 329.5 L244 302.6 L244.5 324.3 L245 301.4 L245.5 323.6 L246 310.1 L246.5 328.5 L247 307.8 L247.5 330.7 L248 300.3 L248.5 327.6 L249 328.1 L249.5 331.3 L250 319 L250.5 325.9 L251 307.1 L251.5 328.1 L252 321.8 L252.5 329.3 L253 326.6 L253.5 325 L254 318.6 L254.5 323.8 L255 315.6 L255.5 327.8 L256 318.4 L256.5 327.5 L257 303.2 L257.5 326.5 L258 318.5 L258.5 331.1 L259 324.2 L259.5 330.9 L260 321.4 L260.5 328.4 L261 308.3 L261.5 327.3 L262 321.4 L262.5 328.3 L263 321.7 L263.5 329.2 L264 325.5 L264.5 330.3 L265 298.6 L265.5 328.5 L266 308.8 L266.5 326 L267 315.8 L267.5 330.6 L268 328.9 L268.5 330.5 L269 317.2 L269.5 326.7 L270 326.4 L270.5 330.6 L271 328.6 L271.5 329.5 L272 312.1 L272.5 326.8 L273 307.5 L273.5 331.6 L274 304 L274.5 327.8 L275 318.1 L275.5 327.1 L276 325.1 L276.5 328.2 L277 321.1 L277.5 330.2 L278 312.8 L278.5 328.6 L279 312.5 L279.5 331.3 L280 325.1 L280.5 328.1 L281 319.6 L281.5 327.5 L282 327.5 L282.5 325.6 L283 314.6 L283.5 327.9 L284 325.2 L284.5 328.2 L285 323.6 L285.5 328.8 L286 309.7 L286.5 331.9 L287 317.8 L287.5 329.8 L288 292.5 L288.5 327.6 L289 311.3 L289.5 326 L290 300.3 L290.5 325.5 L291 318.4 L291.5 329.1 L292 308.9 L292.5 328.5 L293 304.4 L293.5 330.9 L294 321.7 L294.5 331.4 L295 321.5 L295.5 331.6 L296 318.4 L296.5 330.6 L297 327.3 L297.5 329 L298 308.5 L298.5 330.3 L299 327 L299.5 327.7 L300 301.2 L300.5 325.7 L301 303.8 L301.5 326.2 L302 319.4 L302.5 325.2 L303 299.6 L303.5 326.4 L304 326.6 L304.5 328.6 L305 310.1 L305.5 327.7 L306 324.5 L306.5 330.6 L307 308.7 L307.5 330.6 L308 324.5 L308.5 328.4 L309 313.4 L309.5 329.4 L310 316.1 L310.5 331.4 L311 326.5 L311.5 331.2 L312 323.1 L312.5 331.5 L313 296.7 L313.5 326.7 L314 327 L314.5 328.1 L315 320 L315.5 331.6 L316 313.5 L316.5 331.2 L317 312.3 L317.5 326.6 L318 318.1 L318.5 325.3 L319 327 L319.5 331.3 L320 324.8 L320.5 325.6 L321 322.8 L321.5 328.9 L322 319.9 L322.5 325.2 L323 320.2 L323.5 328.7 L324 328.3 L324.5 326.7 L325 317.6 L325.5 330.5 L326 327 L326.5 330.5 L327 325.5 L327.5 326.1 L328 316.6 L328.5 327.1 L329 320.4 L329.5 330.2 L330 318.7 L330.5 327.7 L331 313.2 L331.5 328.6 L332 314.5 L332.5 331.4 L333 327.4 L333.5 331.4 L334 320.1 L334.5 326.1 L335 327.7 L335.5 329.3 L336 307.2 L336.5 325.2 L337 320.5 L337.5 328.6 L338 319 L338.5 331.9 L339 323.3 L339.5 326.6 L340 318.9 L340.5 327.5 L341 323.4 L341.5 330.1 L342 326.8 L342.5 326 L343 320.2 L343.5 327.7 L344 307.7 L344.5 332.1 L345 304.7 L345.5 326.3 L346 314.5 L346.5 329.9 L347 328.1 L347.5 327.7 L348 318 L348.5 326.3 L349 322.9 L349.5 329.2 L350 297.5 L350.5 331 L351 323.9 L351.5 326.9 L352 310 L352.5 330.2 L353 326.4 L353.5 329.6 L354 321.4 L354.5 330.3 L355 320.8 L355.5 330.3 L356 325.2 L356.5 326.8 L357 316.5 L357.5 326 L358 326.5 L358.5 327.5 L359 318.6 L359.5 327.3 L360 328.2 L360.5 330.6 L361 318.4 L361.5 330.6 L362 320.9 L362.5 330.5 L363 325.5 L363.5 328.9 L364 326.6 L364.5 330.1 L365 317.1 L365.5 326.5 L366 324.5 L366.5 328.2 L367 326.7 L367.5 326.8 L368 316.3 L368.5 327.6 L369 319.8 L369.5 332.2 L370 309.8 L370.5 328.3 L371 313.9 L371.5 328.1 L372 328.3 L372.5 326.5 L373 325 L373.5 331.3 L374 316.7 L374.5 329.7 L375 322.8 L375.5 329.5 L376 329.6 L376.5 329 L377 315.7 L377.5 331.8 L378 321.5 L378.5 327.4 L379 324.3 L379.5 329.1 L380 321.9 L380.5 331.4 L381 327 L381.5 330.6 L382 328.3 L382.5 326.9 L383 320.2 L383.5 329.8 L384 325.6 L384.5 330.2 L385 317.7 L385.5 330.1 L386 325.9 L386.5 326.1 L387 322 L387.5 328 L388 327.9 L388.5 330.2 L389 321.3 L389.5 327 L390 326.2 L390.5 332.1 L391 311.9 L391.5 328.7 L392 327.1 L392.5 326.6 L393 324 L393.5 326.6 L394 324.1 L394.5 326.8 L395 327.7 L395.5 330.9 L396 295.9 L396.5 326.4 L397 329.1 L397.5 327.5 L398 313.8 L398.5 329 L399 328.4 L399.5 326.6 L400 320.1 L400.5 332.1 L401 327.1 L401.5 330.3 L402 327.2 L402.5 329.2 L403 318.9 L403.5 326.1 L404 327.2 L404.5 326.5 L405 319.4 L405.5 330.2 L406 321.9 L406.5 331 L407 314.4 L407.5 327.1 L408 323.8 L408.5 328.8 L409 318.6 L409.5 331 L410 321.5 L410.5 326.1 L411 310 L411.5 326.3 L412 325.4 L412.5 327.9 L413 307 L413.5 331 L414 325 L414.5 332.3 L415 323 L415.5 329.7 L416 310.1 L416.5 331.2 L417 308.8 L417.5 325.9 L418 320.7 L418.5 326.9 L419 321.9 L419.5 330.7 L420 327.1 L420.5 328.6 L421 328.3 L421.5 325.9 L422 328.8 L422.5 326.4 L423 320.4 L423.5 331.1 L424 318.5 L424.5 330.9 L425 330.7 L425.5 330.3 L426 316.1 L426.5 329.9 L427 314.3 L427.5 328.9 L428 322.2 L428.5 328.1 L429 318.4 L429.5 331.8 L430 295.2 L430.5 332 L431 320.5 L431.5 325.9 L432 305.2 L432.5 328 L433 319.1 L433.5 331 L434 303.9 L434.5 326.5 L435 322.3 L435.5 328.8 L436 308.1 L436.5 327.9 L437 297.6 L437.5 331.9 L438 318.5 L438.5 331.4 L439 320.1 L439.5 327.7 L440 325 L440.5 328.7 L441 318.9 L441.5 327.4 L442 321 L442.5 329.7 L443 326.3 L443.5 329 L444 328.3 L444.5 328.5 L445 320.5 L445.5 330.9 L446 326.9 L446.5 327 L447 319.6 L447.5 327.8 L448 326 L448.5 326 L449 326.3 L449.5 329.3 L450 319.1 L450.5 327.8 L451 316 L451.5 327.2 L452 316.6 L452.5 326.2 L453 317 L453.5 328.4 L454 312.4 L454.5 326 L455 327.3 L455.5 329.9 L456 322.3 L456.5 328.7 L457 319.1 L457.5 327.4 L458 324 L458.5 329 L459 318.3 L459.5 329.1 L460 317.5 L460.5 332.2 L461 326.4 L461.5 330 L462 324.5 L462.5 331.3 L463 322.8 L463.5 326.6 L464 314.9 L464.5 331.6 L465 320.6 L465.5 327.9 L466 313 L466.5 327.7 L467 319.9 L467.5 328.7 L468 316.3 L468.5 331.4 L469 309.9 L469.5 329.7 L470 325.3 L470.5 328.6 L471 320.5 L471.5 330.6 L472 321.4 L472.5 326.7 L473 325 L473.5 328.8 L474 319.5 L474.5 328.6 L475 323.1 L475.5 326.8 L476 318.2 L476.5 327.2 L477 329.8 L477.5 326.4 L478 321.9 L478.5 331.7 L479 324.2 L479.5 326 L480 329 L480.5 330.8 L481 324.5 L481.5 326.6 L482 317.3 L482.5 330.6 L483 328.3 L483.5 330.4 L484 327.6 L484.5 328.8 L485 329.5 L485.5 331.6 L486 322.9 L486.5 332.6 L487 328.9 L487.5 331.9 L488 329.9 L488.5 332.6 L489 330.6 L489.5 331.9 L490 332.9 L490.5 331.1 L491 327 L491.5 332.7 L492 329.9 L492.5 331.6 L493 325.6 L493.5 331.6 L494 323.9 L494.5 331.3 L495 330 L495.5 331.8 L496 331.4 L496.5 332.8 L497 329.6 L497.5 332.9 L498 326 L498.5 332.7 L499 329.8 L499.5 332.8 L500 327.2 L500.5 332.8 L501 325.5 L501.5 331.5 L502 325.6 L502.5 332.6 L503 324.2 L503.5 331.4 L504 324.6 L504.5 331.3 L505 327.5 L505.5 331.3 L506 319.3 L506.5 331.3 L507 326.1 L507.5 331.6 L508 323.2 L508.5 330.7 L509 324.2 L509.5 331 L510 327.4 L510.5 332.2 L511 322.3 L511.5 333 L512 329.8 L512.5 332.5 L513 330.6 L513.5 332.1 L514 326.4 L514.5 332.4 L515 324.1 L515.5 331.7 L516 328.3 L516.5 330.7 L517 327.7 L517.5 332.2 L518 330.8 L518.5 331.2 L519 331 L519.5 331 L520 329.2 L520.5 332.4 L521 328.6 L521.5 331.4 L522 328.7 L522.5 331.4 L523 330 L523.5 331 L524 330.2 L524.5 332.2 L525 329.1 L525.5 331.7 L526 327.1 L526.5 331.6 L527 330.8 L527.5 331.1 L528 326.8 L528.5 332.6 L529 323.6 L529.5 332.5 L530 322.7 L530.5 332.9 L531 321.9 L531.5 332.4 L532 326.5 L532.5 331.7 L533 329.7 L533.5 332 L534 325.9 L534.5 332.4 L535 328.6 L535.5 331 L536 329.6 L536.5 331.1 L537 329.2 L537.5 331.5 L538 331.4 L538.5 332.3 L539 329.9 L539.5 332.1 L540 324.1 L540.5 332.8 L541 324.7 L541.5 331.9 L542 330.8 L542.5 332.9 L543 324.6 L543.5 330.9 L544 328.8 L544.5 331.9 L545 327.2 L545.5 332.1 L546 327.4 L546.5 330.7 L547 327.7 L547.5 332.5 L548 329.2 L548.5 330.9 L549 328.4 L549.5 332.1 L550 330.5 L550.5 330.8 L551 323.1 L551.5 330.9 L552 329.1 L552.5 331.7 L553 330.8 L553.5 330.7 L554 331.4 L554.5 331.2 L555 324.2 L555.5 332.2 L556 328.2 L556.5 331.8 L557 325.2 L557.5 332.2 L558 323.9 L558.5 331 L559 327.9 L559.5 331.5 L560 328.9 L560.5 331.3 L561 329.7 L561.5 331.1 L562 329.8 L562.5 331.5 L563 330.9 L563.5 332.7 L564 323.8 L564.5 332.1 L565 330.3 L565.5 332.2 L566 326.6 L566.5 332.8 L567 328.7 L567.5 331.6 L568 326 L568.5 331.6 L569 323.9 L569.5 331.4 L570 330.9 L570.5 332.9 L571 329.4 L571.5 332.8 L572 332 L572.5 332.8 L573 331.1 L573.5 330.7 L574 331.8 L574.5 332.5 L575 331.9 L575.5 331.5 L576 330.1 L576.5 331.6 L577 326.3 L577.5 332 L578 327.7 L578.5 330.7 L579 325 L579.5 332.1 L580 329.4 L580.5 332.8 L581 327.6 L581.5 331.4 L582 326.4 L582.5 331.2 L583 324.7 L583.5 331.3 L584 319.4 L584.5 332.4 L585 330.4 L585.5 331.1 L586 329.1 L586.5 331 L587 331.6 L587.5 331.2 L588 331.5 L588.5 330.8" fill="none" stroke="#f78a2a" stroke-width="1"/>
<line x1="71" y1="282.3" x2="71" y2="293.6" stroke="#b0601a" stroke-width="0.9"/>
<line x1="72" y1="282.7" x2="72" y2="294" stroke="#b0601a" stroke-width="0.9"/>
<line x1="77" y1="295.2" x2="77" y2="306.6" stroke="#b0601a" stroke-width="0.9"/>
<line x1="81" y1="287.9" x2="81" y2="299.3" stroke="#b0601a" stroke-width="0.9"/>
<line x1="88" y1="291.2" x2="88" y2="302.5" stroke="#b0601a" stroke-width="0.9"/>
<line x1="90" y1="294.8" x2="90" y2="306.2" stroke="#b0601a" stroke-width="0.9"/>
<line x1="109" y1="287.4" x2="109" y2="298.8" stroke="#b0601a" stroke-width="0.9"/>
<line x1="178" y1="277.8" x2="178" y2="289.1" stroke="#b0601a" stroke-width="0.9"/>
<line x1="179" y1="281.9" x2="179" y2="293.3" stroke="#b0601a" stroke-width="0.9"/>
<line x1="186" y1="293.7" x2="186" y2="305" stroke="#b0601a" stroke-width="0.9"/>
<line x1="187" y1="277.8" x2="187" y2="289.1" stroke="#b0601a" stroke-width="0.9"/>
<line x1="189" y1="285.3" x2="189" y2="296.7" stroke="#b0601a" stroke-width="0.9"/>
<line x1="193" y1="291.4" x2="193" y2="302.8" stroke="#b0601a" stroke-width="0.9"/>
<line x1="196" y1="293.9" x2="196" y2="305.3" stroke="#b0601a" stroke-width="0.9"/>
<line x1="200" y1="293.1" x2="200" y2="304.4" stroke="#b0601a" stroke-width="0.9"/>
<line x1="209" y1="293.6" x2="209" y2="305" stroke="#b0601a" stroke-width="0.9"/>
<line x1="237" y1="285.1" x2="237" y2="296.4" stroke="#b0601a" stroke-width="0.9"/>
<line x1="288" y1="292.5" x2="288" y2="303.9" stroke="#b0601a" stroke-width="0.9"/>
<line x1="313" y1="296.7" x2="313" y2="308" stroke="#b0601a" stroke-width="0.9"/>
<line x1="396" y1="295.9" x2="396" y2="307.2" stroke="#b0601a" stroke-width="0.9"/>
<line x1="430" y1="295.2" x2="430" y2="306.5" stroke="#b0601a" stroke-width="0.9"/>
<line x1="239.5" y1="214" x2="239.5" y2="300" stroke="#fcd0b4" stroke-width="1"/>
<line x1="240" y1="254" x2="240" y2="300" stroke="#7a4a1a" stroke-width="1.2"/>
<line x1="65.6" y1="214" x2="65.6" y2="333.4" stroke="#444" stroke-width="1"/>
<line x1="56.4" y1="333.4" x2="65.6" y2="333.4" stroke="#555" stroke-width="1"/>
<text x="51" y="338" font-size="13" text-anchor="end">0</text>
<line x1="56.4" y1="308.2" x2="65.6" y2="308.2" stroke="#555" stroke-width="1"/>
<text x="51" y="312.8" font-size="13" text-anchor="end">1</text>
<line x1="56.4" y1="283" x2="65.6" y2="283" stroke="#555" stroke-width="1"/>
<text x="51" y="287.6" font-size="13" text-anchor="end">2</text>
<line x1="56.4" y1="257.8" x2="65.6" y2="257.8" stroke="#555" stroke-width="1"/>
<text x="51" y="262.4" font-size="13" text-anchor="end">3</text>
<line x1="56.4" y1="232.6" x2="65.6" y2="232.6" stroke="#555" stroke-width="1"/>
<text x="51" y="237.2" font-size="13" text-anchor="end">4</text>
<g font-size="13" text-anchor="middle"><text transform="translate(10.3,274) rotate(-90)">Sahara dust flux</text><text transform="translate(29.5,273) rotate(-90)">(g cm<tspan dy="-4" font-size="9">−2</tspan><tspan dy="4"> kyr</tspan><tspan dy="-4" font-size="9">−1</tspan><tspan dy="4">)</tspan></text></g>
<text transform="translate(555.2,292.5) scale(1.12,1)" font-size="14.6" font-weight="bold" stroke="#000" stroke-width="0.35">d</text>
<defs><linearGradient id="egrad" gradientUnits="userSpaceOnUse" x1="0" y1="345" x2="0" y2="445"><stop offset="0.000" stop-color="#b02a2a"/><stop offset="0.100" stop-color="#d83c1e"/><stop offset="0.170" stop-color="#e8561a"/><stop offset="0.250" stop-color="#f08020"/><stop offset="0.330" stop-color="#f4a826"/><stop offset="0.410" stop-color="#dcd830"/><stop offset="0.500" stop-color="#a0e040"/><stop offset="0.570" stop-color="#50d870"/><stop offset="0.650" stop-color="#30c8b0"/><stop offset="0.750" stop-color="#30a8e0"/><stop offset="0.830" stop-color="#3a80e0"/><stop offset="0.930" stop-color="#5050b0"/><stop offset="1.000" stop-color="#5a3aa0"/></linearGradient></defs>
<path d="M67.3 382 L68 430 L68.9 369.7 L69.9 408.3 L70.7 375.1 L71.5 414.3 L72.1 362.6 L72.7 404.9 L73.6 363.6 L74.3 406 L75.1 372.4 L75.7 406 L76.4 367.9 L77.1 411.8 L77.7 364.6 L78.6 388.6 L79.5 361 L80.5 393.1 L81.3 364.9 L82 428.4 L82.6 382.7 L83.3 405 L84.1 361 L85 408 L85.8 368.9 L86.7 406.5 L87.5 361.8 L88.1 415.9 L88.8 361 L89.3 412.2 L90 367.5 L90.7 384.4 L91.6 387 L92.6 406.6 L93.5 374.6 L94.2 423.6 L95.1 378.3 L96 430 L96.8 376.1 L97.7 430 L98.6 393.7 L99.6 416.4 L100.6 367.5 L101.4 378.3 L102.2 359 L103.2 404.6 L103.7 388.5 L104.6 410.8 L105.4 372 L106.3 402.5 L107.3 381.4 L107.9 390.9 L108.8 368.1 L109.6 389 L110.2 371.8 L111.1 397.3 L111.7 369.2 L112.5 404.1 L113.5 360 L114.1 392.6 L115 371.4 L115.8 395.8 L116.7 364.4 L117.3 409.4 L118.1 378.6 L118.7 394 L119.5 377.2 L120.2 392.2 L120.8 386.4 L121.5 406.9 L122.1 376 L123 402 L123.9 372.7 L124.8 405.9 L125.8 377.1 L126.7 404.7 L127.6 373.2 L128.5 401.9 L129.1 372.7 L130 389.1 L131 374 L131.7 384.5 L132.5 374.4 L133 393.4 L133.8 365.4 L134.4 384.2 L135.4 372.9 L136.1 398 L136.7 380.8 L137.6 389.1 L138.4 373.1 L139.2 389.8 L139.8 366.5 L140.6 387.7 L141.3 364.7 L142.1 390.1 L142.8 367.1 L143.6 385 L144.3 362.6 L144.9 389 L145.6 368.1 L146.2 385 L147 363.7 L147.8 380.5 L148.4 363.6 L149.2 377.6 L149.9 369.3 L150.6 391.4 L151.5 368 L152.3 383.3 L153.1 359 L153.8 369.8 L154.4 366.9 L155.3 383.5 L156 374 L156.8 387.3 L157.7 362.8 L158.3 390.8 L159.1 363.4 L159.8 385.7 L160.6 364.3 L161.2 376.8 L161.9 372.9 L162.8 389.4 L163.4 364 L164 381.7 L164.7 365.9 L165.6 390.7 L166.5 376.2 L167.3 386.2 L168.2 372 L168.9 386.8 L169.8 379 L170.5 387.6 L171.4 359 L172.1 377.4 L172.7 369.6 L173.4 374.2 L174.2 359.2 L175 381.7 L175.6 361.2 L176.3 386.6 L177.2 371.3 L178 395.3 L178.9 369.9 L179.6 390.5 L180.5 381.2 L181.1 377.4 L182 361.5 L182.9 381.7 L183.6 366.8 L184.2 392.8 L185.2 370.5 L185.8 386.7 L186.7 373.9 L187.7 378.6 L188.3 359.4 L189.1 381.7 L189.7 364.8 L190.7 387.2 L191.5 369.5 L192.1 384.1 L193 373 L193.8 392.2 L194.7 363.4 L195.5 387.4 L196.1 368.2 L196.9 388.5 L197.7 373.5 L198.6 384.6 L199.3 371.5 L199.9 398 L200.9 382 L201.7 382 L202.3 380 L203.1 379 L203.9 368.5 L204.5 375.3 L205.2 365.3 L206 380 L206.8 365.8 L207.6 372 L208.3 358.5 L209.2 371 L209.9 361.6 L210.6 372.6 L211.2 363 L211.9 370.6 L212.6 362.2 L213.2 377 L214.2 365.2 L214.8 374.6 L215.5 358.2 L216.4 375.4 L217 360.5 L217.6 373.7 L218.5 363.5 L219.4 368.1 L220 361.6 L220.7 366.8 L221.6 364.3 L222.2 369 L223 359.4 L223.7 368.3 L224.2 355 L224.9 363.3 L225.7 356.9 L226.4 374.1 L227.3 364.8 L228 371.9 L228.6 356.8 L229.3 363.7 L230.1 359.9 L230.9 367 L231.8 357.9 L232.6 374.8 L233.4 355 L234.2 367.2 L235.1 356 L236 366.3 L236.7 359.5 L237.4 374.6 L238.1 368.9 L238.7 378.4 L239.4 361.9 L240.4 375 L241.3 363.9 L242.1 372.4 L242.9 358 L243.8 365.9 L244.6 362 L245.3 372 L246.1 358.3 L246.7 369.8 L247.3 355.6 L248 374.4 L248.9 366.8 L249.6 371.1 L250.5 367.4 L251.1 375.6 L252 357.9 L253 364.7 L253.6 355 L254.3 373.2 L255.2 360.4 L256.2 378.7 L257.2 372.9 L258.1 377.5 L258.8 361.7 L259.5 374.7 L260.4 371.5 L261.1 369 L261.7 360.2 L262.6 371 L263.4 359.8 L264.2 369 L264.8 363.9 L265.5 376.8 L266.5 365.8 L267.3 375.8 L268.1 362.1 L269.1 367.7 L269.7 356.7 L270.4 375.9 L271 367.3 L271.6 376.8 L272.3 374.1 L272.9 382 L273.7 371 L274.3 382 L275.2 363.8 L276.1 377.6 L277.1 360 L278 371.1 L278.6 363.7 L279.5 372.5 L280.4 364.6 L281 377.8 L281.9 369.3 L282.5 382 L283.5 367.6 L284.1 372.9 L285.1 358.8 L285.6 388 L293 375 L305 377 L309 365 L320 360 L323 359 L327 367 L329 368 L344 350.4 L347 355 L350.4 352.4 L353.6 358.6 L358 356 L360 355.6 L362 357 L366 356.4 L385 360.4 L388.4 377 L392 358 L395 355.6 L398 375 L401.4 350.4 L406 372.4 L409 361 L412 362.4 L415 376 L418 357 L420.4 354.4 L423.6 374.4 L426 355.6 L429 355.6 L432 366 L434.4 367.6 L437.4 360 L440 369 L444 372.4 L447 377.4 L449.6 377.4 L452 357.6 L461 354 L463.6 366 L480.6 360 L483.3 354 L496 357 L499 355.3 L501.5 357.5 L504 369 L506.5 352 L511.3 347.7 L520 346.6 L541 348.8 L546.3 352 L551.8 362 L554.7 357.5 L556.6 359.3 L558.4 350 L560 352 L562.8 347.7 L574.8 354.2 L582.5 348.3 L589 352.5" fill="none" stroke="url(#egrad)" stroke-width="1.2" stroke-linejoin="round"/>
<line x1="69.4" y1="402.6" x2="69.4" y2="442.6" stroke="url(#egrad)" stroke-width="1.2"/>
<line x1="85" y1="398.5" x2="85" y2="438.5" stroke="url(#egrad)" stroke-width="1.2"/>
<line x1="125.5" y1="400" x2="125.5" y2="440" stroke="url(#egrad)" stroke-width="1.2"/>
<line x1="126.7" y1="405.5" x2="126.7" y2="445.5" stroke="url(#egrad)" stroke-width="1.2"/>
<line x1="81.7" y1="384" x2="81.7" y2="424" stroke="url(#egrad)" stroke-width="1.2"/>
<line x1="90.6" y1="389" x2="90.6" y2="429" stroke="url(#egrad)" stroke-width="1.2"/>
<line x1="95.3" y1="389.7" x2="95.3" y2="429.7" stroke="url(#egrad)" stroke-width="1.2"/>
<line x1="119" y1="387" x2="119" y2="427" stroke="url(#egrad)" stroke-width="1.2"/>
<line x1="201" y1="359" x2="201" y2="399" stroke="url(#egrad)" stroke-width="1.2"/>
<line x1="207.7" y1="366" x2="207.7" y2="406" stroke="url(#egrad)" stroke-width="1.2"/>
<line x1="232" y1="379.5" x2="232" y2="419.5" stroke="url(#egrad)" stroke-width="1.2"/>
<line x1="171" y1="360" x2="171" y2="400" stroke="url(#egrad)" stroke-width="1.2"/>
<line x1="596.5" y1="347.3" x2="596.5" y2="445.9" stroke="#555" stroke-width="1"/>
<line x1="596.5" y1="436.4" x2="607" y2="436.4" stroke="#555" stroke-width="1"/>
<text x="612.3" y="441" font-size="13">24</text>
<line x1="596.5" y1="419.1" x2="607" y2="419.1" stroke="#555" stroke-width="1"/>
<text x="612.3" y="423.7" font-size="13">25</text>
<line x1="596.5" y1="401.8" x2="607" y2="401.8" stroke="#555" stroke-width="1"/>
<text x="612.3" y="406.4" font-size="13">26</text>
<line x1="596.5" y1="384.6" x2="607" y2="384.6" stroke="#555" stroke-width="1"/>
<text x="612.3" y="389.2" font-size="13">27</text>
<line x1="596.5" y1="367.3" x2="607" y2="367.3" stroke="#555" stroke-width="1"/>
<text x="612.3" y="371.9" font-size="13">28</text>
<line x1="596.5" y1="350" x2="607" y2="350" stroke="#555" stroke-width="1"/>
<text x="612.3" y="354.6" font-size="13">29</text>
<text transform="translate(647.3,396.5) rotate(-90)" font-size="12.5" text-anchor="middle">Arabian SST (°C)</text>
<text transform="translate(555.6,379) scale(1.12,1)" font-size="14.6" font-weight="bold" stroke="#000" stroke-width="0.35">e</text>
<line x1="83" y1="452.4" x2="156" y2="452.4" stroke="#222" stroke-width="1.1"/>
<line x1="84" y1="446.2" x2="96" y2="446.2" stroke="#222" stroke-width="1.1"/>
<line x1="84" y1="456" x2="100" y2="456" stroke="#222" stroke-width="1.1"/>
<line x1="84" y1="470" x2="100" y2="470" stroke="#222" stroke-width="1.1"/>
<path d="M67.8 451.6 L74.2 453 M69.2 449.5 L72.8 455.1 M71.7 449.1 L70.3 455.5 M73.8 450.5 L68.2 454.1" stroke="#000" stroke-width="0.75"/>
<path d="M70 455.3 L76.4 456.7 M71.4 453.2 L75 458.8 M73.9 452.8 L72.5 459.2 M76 454.2 L70.4 457.8" stroke="#000" stroke-width="0.75"/>
<path d="M70.8 462.3 L77.2 463.7 M72.2 460.2 L75.8 465.8 M74.7 459.8 L73.3 466.2 M76.8 461.2 L71.2 464.8" stroke="#000" stroke-width="0.75"/>
<path d="M68.7 468.8 L75.1 470.2 M70.1 466.7 L73.7 472.3 M72.6 466.3 L71.2 472.7 M74.7 467.7 L69.1 471.3" stroke="#000" stroke-width="0.75"/>
<path d="M68.3 475.8 L74.7 477.2 M69.7 473.7 L73.3 479.3 M72.2 473.3 L70.8 479.7 M74.3 474.7 L68.7 478.3" stroke="#000" stroke-width="0.75"/>
<path d="M84.4 474.9 L90.8 476.3 M85.8 472.8 L89.4 478.4 M88.3 472.4 L86.9 478.8 M90.4 473.8 L84.8 477.4" stroke="#000" stroke-width="0.75"/>
<path d="M98.2 474.9 L104.6 476.3 M99.6 472.8 L103.2 478.4 M102.1 472.4 L100.7 478.8 M104.2 473.8 L98.6 477.4" stroke="#000" stroke-width="0.75"/>
<path d="M84.8 452.3 L91.2 453.7 M86.2 450.2 L89.8 455.8 M88.7 449.8 L87.3 456.2 M90.8 451.2 L85.2 454.8" stroke="#000" stroke-width="0.75"/>
<path d="M88.3 454.8 L94.7 456.2 M89.7 452.7 L93.3 458.3 M92.2 452.3 L90.8 458.7 M94.3 453.7 L88.7 457.3" stroke="#000" stroke-width="0.75"/>
<path d="M85.8 468.3 L92.2 469.7 M87.2 466.2 L90.8 471.8 M89.7 465.8 L88.3 472.2 M91.8 467.2 L86.2 470.8" stroke="#000" stroke-width="0.75"/>
<path d="M90.3 451.3 L96.7 452.7 M91.7 449.2 L95.3 454.8 M94.2 448.8 L92.8 455.2 M96.3 450.2 L90.7 453.8" stroke="#000" stroke-width="0.75"/>
<path d="M79.7 440.5 L83.6 448 L79.7 455 L75.8 448 Z" fill="#e00000" stroke="#000" stroke-width="0.6"/>
<path d="M79.7 446 L83.6 453 L79.7 460 L75.8 453 Z" fill="#e00000" stroke="#000" stroke-width="0.6"/>
<rect x="76" y="457.5" width="7.4" height="6.5" fill="#f00" stroke="#000" stroke-width="0.5"/>
<rect x="76" y="463.5" width="7.4" height="6.5" fill="#f00" stroke="#000" stroke-width="0.5"/>
<rect x="76" y="469.5" width="7.4" height="5" fill="#a00000" stroke="#000" stroke-width="0.5"/>
<rect x="76" y="474.5" width="7.4" height="5" fill="#900000" stroke="#000" stroke-width="0.5"/>
<rect x="86.2" y="442.8" width="7" height="7" fill="#ff00ff" stroke="#000" stroke-width="0.5"/>
<line x1="93" y1="446.3" x2="96" y2="446.3" stroke="#222" stroke-width="1.1"/>
<rect x="87.5" y="460" width="6.5" height="6.5" fill="#f08080" stroke="#000" stroke-width="0.5"/>
<line x1="94" y1="463" x2="103" y2="463" stroke="#222" stroke-width="1.1"/>
<line x1="105" y1="469.4" x2="115" y2="469.4" stroke="#222" stroke-width="1.1"/>
<line x1="102" y1="476.4" x2="108" y2="476.4" stroke="#222" stroke-width="1.1"/>
<line x1="120.6" y1="476.4" x2="142.5" y2="476.4" stroke="#222" stroke-width="1.1"/>
<line x1="130" y1="446.2" x2="142" y2="446.2" stroke="#222" stroke-width="1.1"/>
<line x1="149.5" y1="446.2" x2="163" y2="446.2" stroke="#222" stroke-width="1.1"/>
<line x1="139" y1="459.7" x2="165.6" y2="459.7" stroke="#222" stroke-width="1.1"/>
<line x1="130" y1="463.2" x2="147" y2="463.2" stroke="#222" stroke-width="1.1"/>
<line x1="142" y1="472.9" x2="164.8" y2="472.9" stroke="#222" stroke-width="1.1"/>
<line x1="200.7" y1="446.2" x2="218.8" y2="446.2" stroke="#333" stroke-width="1.1"/>
<line x1="188" y1="462.9" x2="209" y2="462.9" stroke="#555" stroke-width="1.1"/>
<line x1="207.6" y1="469.3" x2="225.2" y2="469.3" stroke="#333" stroke-width="1.1"/>
<circle cx="109.6" cy="446.2" r="3.6" fill="#e2105c" stroke="#000" stroke-width="0.7"/>
<circle cx="103.8" cy="458.5" r="3.6" fill="#e2105c" stroke="#000" stroke-width="0.7"/>
<circle cx="103.3" cy="462.8" r="3.6" fill="#e2105c" stroke="#000" stroke-width="0.7"/>
<circle cx="110.4" cy="469.4" r="3.6" fill="#f8c870" stroke="#000" stroke-width="0.7"/>
<circle cx="106" cy="476.4" r="3.6" fill="#e2105c" stroke="#000" stroke-width="0.7"/>
<circle cx="122.8" cy="452.4" r="3.6" fill="#f2aab4" stroke="#000" stroke-width="0.7"/>
<circle cx="135.6" cy="446.2" r="3.6" fill="#f4a8b0" stroke="#000" stroke-width="0.7"/>
<circle cx="156.5" cy="446.2" r="3.6" fill="#b8750a" stroke="#000" stroke-width="0.7"/>
<circle cx="151.2" cy="459.7" r="3.6" fill="#f5a623" stroke="#000" stroke-width="0.7"/>
<circle cx="136.7" cy="463.2" r="3.6" fill="#f07030" stroke="#000" stroke-width="0.7"/>
<circle cx="153.6" cy="472.9" r="3.6" fill="#f5a623" stroke="#000" stroke-width="0.7"/>
<circle cx="131.8" cy="476.4" r="3.6" fill="#f0d8a8" stroke="#000" stroke-width="0.7"/>
<circle cx="209.8" cy="446.2" r="3.6" fill="#fdf8c0" stroke="#000" stroke-width="0.7"/>
<circle cx="198.6" cy="462.9" r="3.6" fill="#c8c010" stroke="#000" stroke-width="0.7"/>
<circle cx="216.4" cy="469.3" r="3.6" fill="#f8f000" stroke="#000" stroke-width="0.7"/>
<line x1="274.6" y1="449.7" x2="346.5" y2="449.7" stroke="#222" stroke-width="1.0"/>
<line x1="264.7" y1="453" x2="284" y2="453" stroke="#222" stroke-width="1.0"/>
<line x1="297.4" y1="453" x2="333.2" y2="453" stroke="#222" stroke-width="1.0"/>
<line x1="276" y1="456" x2="336" y2="456" stroke="#222" stroke-width="1.0"/>
<line x1="261.7" y1="461" x2="340.4" y2="461" stroke="#222" stroke-width="1.0"/>
<line x1="297.4" y1="464.6" x2="372" y2="464.6" stroke="#222" stroke-width="1.0"/>
<line x1="254.5" y1="467.7" x2="315.8" y2="467.7" stroke="#222" stroke-width="1.0"/>
<line x1="281" y1="470.2" x2="383" y2="470.2" stroke="#222" stroke-width="1.0"/>
<line x1="238" y1="472.8" x2="347.5" y2="472.8" stroke="#222" stroke-width="1.0"/>
<line x1="283" y1="475.9" x2="395" y2="475.9" stroke="#222" stroke-width="1.0"/>
<line x1="237" y1="479.5" x2="425.6" y2="479.5" stroke="#222" stroke-width="1.0"/>
<circle cx="274.6" cy="453" r="3.6" fill="#2e8b20" stroke="#000" stroke-width="0.7"/>
<circle cx="310.7" cy="449.7" r="3.6" fill="#3399ff" stroke="#000" stroke-width="0.7"/>
<circle cx="315.4" cy="453" r="3.6" fill="#3399ff" stroke="#000" stroke-width="0.7"/>
<circle cx="313.8" cy="456" r="3.6" fill="#1e6a22" stroke="#000" stroke-width="0.7"/>
<circle cx="285.6" cy="457.9" r="3.6" fill="#7cc820" stroke="#000" stroke-width="0.7"/>
<circle cx="281" cy="461" r="3.6" fill="#40e040" stroke="#000" stroke-width="0.7"/>
<circle cx="305" cy="461" r="3.6" fill="#3399ff" stroke="#000" stroke-width="0.7"/>
<circle cx="334.2" cy="464.6" r="3.6" fill="#2a9090" stroke="#000" stroke-width="0.7"/>
<circle cx="273.3" cy="467.7" r="3.6" fill="#8496f0" stroke="#000" stroke-width="0.7"/>
<circle cx="291.3" cy="466.3" r="3.6" fill="#3399ff" stroke="#000" stroke-width="0.7"/>
<circle cx="334.2" cy="470.2" r="3.6" fill="#40d020" stroke="#000" stroke-width="0.7"/>
<circle cx="309.7" cy="471.4" r="3.6" fill="#1e5a30" stroke="#000" stroke-width="0.7"/>
<circle cx="293" cy="472.8" r="3.6" fill="#3399ff" stroke="#000" stroke-width="0.7"/>
<circle cx="276" cy="474.9" r="3.6" fill="#40e8f8" stroke="#000" stroke-width="0.7"/>
<circle cx="327.7" cy="475.9" r="3.6" fill="#209080" stroke="#000" stroke-width="0.7"/>
<circle cx="331.6" cy="479.6" r="3.6" fill="#4060f0" stroke="#000" stroke-width="0.7"/>
<line x1="451.7" y1="446.2" x2="511.7" y2="446.2" stroke="#222" stroke-width="1.1"/>
<line x1="491" y1="453" x2="527.8" y2="453" stroke="#555" stroke-width="1.1"/>
<line x1="476.2" y1="461.4" x2="521.8" y2="461.4" stroke="#222" stroke-width="1.1"/>
<line x1="522.9" y1="464.7" x2="583" y2="464.7" stroke="#222" stroke-width="1.1"/>
<line x1="487.9" y1="468" x2="533" y2="468" stroke="#666" stroke-width="1.1"/>
<line x1="463.8" y1="476.3" x2="509.6" y2="476.3" stroke="#222" stroke-width="1.1"/>
<circle cx="481.6" cy="446.2" r="3.6" fill="#7b1fd0" stroke="#000" stroke-width="0.7"/>
<circle cx="509.4" cy="453" r="3.6" fill="#1a1ae6" stroke="#000" stroke-width="0.7"/>
<circle cx="499.1" cy="461.4" r="3.6" fill="#101060" stroke="#000" stroke-width="0.7"/>
<circle cx="552.8" cy="464.7" r="3.6" fill="#1010e0" stroke="#000" stroke-width="0.7"/>
<circle cx="510" cy="468" r="3.6" fill="#2a6aa0" stroke="#000" stroke-width="0.7"/>
<circle cx="486.7" cy="476.3" r="3.6" fill="#101060" stroke="#000" stroke-width="0.7"/>
<text transform="translate(555.7,487.6) scale(1.12,1)" font-size="14.6" font-weight="bold" stroke="#000" stroke-width="0.35">f</text>
<line x1="56.4" y1="479" x2="66.7" y2="479" stroke="#555" stroke-width="1"/>
<text x="51" y="483.6" font-size="13" text-anchor="end">0</text>
<line x1="66.7" y1="479" x2="66.7" y2="678.7" stroke="#9a9a9a" stroke-width="1.2"/>
<line x1="56.4" y1="526" x2="66.7" y2="526" stroke="#555" stroke-width="1"/>
<text x="51.3" y="530.6" font-size="13" text-anchor="end">−4</text>
<line x1="56.4" y1="573.1" x2="66.7" y2="573.1" stroke="#555" stroke-width="1"/>
<text x="51.3" y="577.7" font-size="13" text-anchor="end">−8</text>
<line x1="56.4" y1="620.1" x2="66.7" y2="620.1" stroke="#555" stroke-width="1"/>
<text x="51.3" y="624.7" font-size="13" text-anchor="end">−12</text>
<line x1="56.4" y1="667.2" x2="66.7" y2="667.2" stroke="#555" stroke-width="1"/>
<text x="51.3" y="671.8" font-size="13" text-anchor="end">−16</text>
<text transform="translate(20.3,578.7) rotate(-90)" font-size="13" text-anchor="middle">δ<tspan dy="-4.5" font-size="9">18</tspan><tspan dy="4.5">O carbonate (‰ VPDB)</tspan></text>
<line x1="66.7" y1="686.6" x2="589.7" y2="686.6" stroke="#9a9a9a" stroke-width="1.2"/>
<line x1="67.3" y1="686.6" x2="67.3" y2="696.7" stroke="#666" stroke-width="1"/>
<text x="67.3" y="712.3" font-size="13" text-anchor="middle">0</text>
<line x1="132.6" y1="686.6" x2="132.6" y2="696.7" stroke="#666" stroke-width="1"/>
<text x="132.6" y="712.3" font-size="13" text-anchor="middle">1,000</text>
<line x1="197.9" y1="686.6" x2="197.9" y2="696.7" stroke="#666" stroke-width="1"/>
<text x="197.9" y="712.3" font-size="13" text-anchor="middle">2,000</text>
<line x1="263.2" y1="686.6" x2="263.2" y2="696.7" stroke="#666" stroke-width="1"/>
<text x="263.2" y="712.3" font-size="13" text-anchor="middle">3,000</text>
<line x1="328.5" y1="686.6" x2="328.5" y2="696.7" stroke="#666" stroke-width="1"/>
<text x="328.5" y="712.3" font-size="13" text-anchor="middle">4,000</text>
<line x1="393.8" y1="686.6" x2="393.8" y2="696.7" stroke="#666" stroke-width="1"/>
<text x="393.8" y="712.3" font-size="13" text-anchor="middle">5,000</text>
<line x1="459.1" y1="686.6" x2="459.1" y2="696.7" stroke="#666" stroke-width="1"/>
<text x="459.1" y="712.3" font-size="13" text-anchor="middle">6,000</text>
<line x1="524.4" y1="686.6" x2="524.4" y2="696.7" stroke="#666" stroke-width="1"/>
<text x="524.4" y="712.3" font-size="13" text-anchor="middle">7,000</text>
<line x1="589.7" y1="686.6" x2="589.7" y2="696.7" stroke="#666" stroke-width="1"/>
<text x="589.7" y="712.3" font-size="13" text-anchor="middle">8,000</text>
<text x="328.5" y="730" font-size="13" text-anchor="middle">Age (ka)</text>
<line x1="67" y1="506.1" x2="581" y2="506.1" stroke="#7d9ef4" stroke-width="1.6" stroke-dasharray="4 3.4"/>
<text x="522.1" y="518.7" font-size="13" textLength="86.3" lengthAdjust="spacingAndGlyphs">Modern rainfall</text>
<text transform="translate(555.3,538.9) scale(1.12,1)" font-size="14.6" font-weight="bold" stroke="#000" stroke-width="0.35">g</text>
<line x1="106.4" y1="511.8" x2="106.4" y2="600" stroke="#000" stroke-width="0.9"/>
<line x1="97.4" y1="511.8" x2="115.4" y2="511.8" stroke="#000" stroke-width="1.0"/>
<line x1="97.4" y1="600" x2="115.4" y2="600" stroke="#000" stroke-width="1.0"/>
<rect x="97.4" y="529.3" width="18" height="46.7" fill="#f0106a" fill-opacity="1"/>
<circle cx="107.4" cy="529.1" r="3.6" fill="#f0106a" stroke="#000" stroke-width="0.6"/>
<circle cx="99.6" cy="508.9" r="3.6" fill="#ff2a7a" stroke="#000" stroke-width="0.6"/>
<circle cx="101.5" cy="520.2" r="3.6" fill="#e8086a" stroke="#000" stroke-width="0.6"/>
<circle cx="104.4" cy="513.9" r="3.6" fill="#f0106a" stroke="#000" stroke-width="0.6"/>
<circle cx="113.3" cy="521.1" r="3.6" fill="#ff2a7a" stroke="#000" stroke-width="0.6"/>
<circle cx="113.2" cy="509.9" r="3.6" fill="#e8086a" stroke="#000" stroke-width="0.6"/>
<circle cx="103.4" cy="517.5" r="3.6" fill="#f0106a" stroke="#000" stroke-width="0.6"/>
<circle cx="104.1" cy="514.3" r="3.6" fill="#ff2a7a" stroke="#000" stroke-width="0.6"/>
<circle cx="104.7" cy="517.2" r="3.6" fill="#e8086a" stroke="#000" stroke-width="0.6"/>
<circle cx="103.8" cy="526.6" r="3.6" fill="#f0106a" stroke="#000" stroke-width="0.6"/>
<circle cx="113.3" cy="513.3" r="3.6" fill="#ff2a7a" stroke="#000" stroke-width="0.6"/>
<circle cx="98.9" cy="525.1" r="3.6" fill="#e8086a" stroke="#000" stroke-width="0.6"/>
<circle cx="108.4" cy="520.2" r="3.6" fill="#f0106a" stroke="#000" stroke-width="0.6"/>
<circle cx="103.7" cy="511.3" r="3.6" fill="#ff2a7a" stroke="#000" stroke-width="0.6"/>
<circle cx="99.8" cy="512" r="3.6" fill="#e8086a" stroke="#000" stroke-width="0.6"/>
<circle cx="99.6" cy="519.3" r="3.6" fill="#f0106a" stroke="#000" stroke-width="0.6"/>
<circle cx="106.1" cy="518.1" r="3.6" fill="#ff2a7a" stroke="#000" stroke-width="0.6"/>
<circle cx="112.1" cy="521.1" r="3.6" fill="#e8086a" stroke="#000" stroke-width="0.6"/>
<circle cx="101.3" cy="508.6" r="3.6" fill="#f0106a" stroke="#000" stroke-width="0.6"/>
<circle cx="105.2" cy="522.7" r="3.6" fill="#ff2a7a" stroke="#000" stroke-width="0.6"/>
<circle cx="101.4" cy="512" r="3.6" fill="#e8086a" stroke="#000" stroke-width="0.6"/>
<circle cx="113.1" cy="512.1" r="3.6" fill="#f0106a" stroke="#000" stroke-width="0.6"/>
<circle cx="107.6" cy="516.4" r="3.6" fill="#ff2a7a" stroke="#000" stroke-width="0.6"/>
<circle cx="110.5" cy="520.6" r="3.6" fill="#e8086a" stroke="#000" stroke-width="0.6"/>
<circle cx="104.6" cy="518.6" r="3.6" fill="#f0106a" stroke="#000" stroke-width="0.6"/>
<circle cx="103.6" cy="523.7" r="3.6" fill="#ff2a7a" stroke="#000" stroke-width="0.6"/>
<circle cx="114.4" cy="510.2" r="3.6" fill="#e8086a" stroke="#000" stroke-width="0.6"/>
<circle cx="105.7" cy="528.5" r="3.6" fill="#f0106a" stroke="#000" stroke-width="0.6"/>
<circle cx="111.5" cy="523.9" r="3.6" fill="#ff2a7a" stroke="#000" stroke-width="0.6"/>
<circle cx="101.3" cy="516.4" r="3.6" fill="#e8086a" stroke="#000" stroke-width="0.6"/>
<circle cx="112.4" cy="537.3" r="3.6" fill="#f0106a" stroke="#000" stroke-width="0.6"/>
<circle cx="105.6" cy="575.5" r="3.6" fill="#ff2a7a" stroke="#000" stroke-width="0.6"/>
<circle cx="106" cy="575" r="3.6" fill="#e8086a" stroke="#000" stroke-width="0.6"/>
<circle cx="102.7" cy="550.8" r="3.6" fill="#f0106a" stroke="#000" stroke-width="0.6"/>
<circle cx="104.6" cy="556.1" r="3.6" fill="#ff2a7a" stroke="#000" stroke-width="0.6"/>
<circle cx="113.6" cy="569.9" r="3.6" fill="#e8086a" stroke="#000" stroke-width="0.6"/>
<circle cx="105.4" cy="562.8" r="3.6" fill="#f0106a" stroke="#000" stroke-width="0.6"/>
<circle cx="113.9" cy="546.8" r="3.6" fill="#ff2a7a" stroke="#000" stroke-width="0.6"/>
<circle cx="108.4" cy="561.3" r="3.6" fill="#e8086a" stroke="#000" stroke-width="0.6"/>
<circle cx="114.2" cy="530" r="3.6" fill="#f0106a" stroke="#000" stroke-width="0.6"/>
<circle cx="106.4" cy="545.5" r="3.6" fill="#ff2a7a" stroke="#000" stroke-width="0.6"/>
<circle cx="113.8" cy="537.6" r="3.6" fill="#e8086a" stroke="#000" stroke-width="0.6"/>
<circle cx="104.7" cy="570.6" r="3.6" fill="#f0106a" stroke="#000" stroke-width="0.6"/>
<circle cx="114.4" cy="566.7" r="3.6" fill="#ff2a7a" stroke="#000" stroke-width="0.6"/>
<circle cx="100" cy="570.1" r="3.6" fill="#e8086a" stroke="#000" stroke-width="0.6"/>
<circle cx="103.9" cy="533.7" r="3.6" fill="#f0106a" stroke="#000" stroke-width="0.6"/>
<circle cx="102.1" cy="552.5" r="3.6" fill="#ff2a7a" stroke="#000" stroke-width="0.6"/>
<circle cx="102.1" cy="537.3" r="3.6" fill="#e8086a" stroke="#000" stroke-width="0.6"/>
<circle cx="111.4" cy="574.1" r="3.6" fill="#f0106a" stroke="#000" stroke-width="0.6"/>
<circle cx="105.3" cy="537.1" r="3.6" fill="#ff2a7a" stroke="#000" stroke-width="0.6"/>
<circle cx="102.8" cy="568.8" r="3.6" fill="#e8086a" stroke="#000" stroke-width="0.6"/>
<circle cx="103" cy="554" r="3.6" fill="#f0106a" stroke="#000" stroke-width="0.6"/>
<circle cx="106.6" cy="572.7" r="3.6" fill="#ff2a7a" stroke="#000" stroke-width="0.6"/>
<circle cx="110.2" cy="544.2" r="3.6" fill="#e8086a" stroke="#000" stroke-width="0.6"/>
<circle cx="102.5" cy="540.9" r="3.6" fill="#f0106a" stroke="#000" stroke-width="0.6"/>
<circle cx="112.7" cy="572.6" r="3.6" fill="#ff2a7a" stroke="#000" stroke-width="0.6"/>
<circle cx="100" cy="538.1" r="3.6" fill="#e8086a" stroke="#000" stroke-width="0.6"/>
<circle cx="105.3" cy="570.5" r="3.6" fill="#f0106a" stroke="#000" stroke-width="0.6"/>
<circle cx="104" cy="565.4" r="3.6" fill="#ff2a7a" stroke="#000" stroke-width="0.6"/>
<circle cx="100.4" cy="532.8" r="3.6" fill="#e8086a" stroke="#000" stroke-width="0.6"/>
<circle cx="109.8" cy="598.4" r="3.6" fill="#f0106a" stroke="#000" stroke-width="0.6"/>
<circle cx="103.7" cy="619.8" r="3.6" fill="#ff2a7a" stroke="#000" stroke-width="0.6"/>
<circle cx="109.4" cy="596.2" r="3.6" fill="#e8086a" stroke="#000" stroke-width="0.6"/>
<circle cx="110.3" cy="609.2" r="3.6" fill="#f0106a" stroke="#000" stroke-width="0.6"/>
<circle cx="106.8" cy="611.9" r="3.6" fill="#ff2a7a" stroke="#000" stroke-width="0.6"/>
<circle cx="105.7" cy="612.3" r="3.6" fill="#e8086a" stroke="#000" stroke-width="0.6"/>
<circle cx="105.8" cy="613.4" r="3.6" fill="#f0106a" stroke="#000" stroke-width="0.6"/>
<circle cx="110.7" cy="581.3" r="3.6" fill="#ff2a7a" stroke="#000" stroke-width="0.6"/>
<circle cx="107" cy="583.6" r="3.6" fill="#e8086a" stroke="#000" stroke-width="0.6"/>
<circle cx="108.2" cy="611.2" r="3.6" fill="#f0106a" stroke="#000" stroke-width="0.6"/>
<circle cx="113.1" cy="602.9" r="3.6" fill="#ff2a7a" stroke="#000" stroke-width="0.6"/>
<circle cx="106.4" cy="588.7" r="3.6" fill="#e8086a" stroke="#000" stroke-width="0.6"/>
<circle cx="113.1" cy="611.7" r="3.6" fill="#f0106a" stroke="#000" stroke-width="0.6"/>
<circle cx="99.9" cy="587.4" r="3.6" fill="#ff2a7a" stroke="#000" stroke-width="0.6"/>
<circle cx="108.4" cy="614.8" r="3.6" fill="#e8086a" stroke="#000" stroke-width="0.6"/>
<circle cx="112.2" cy="597.4" r="3.6" fill="#f0106a" stroke="#000" stroke-width="0.6"/>
<circle cx="104.6" cy="622.9" r="3.6" fill="#ff2a7a" stroke="#000" stroke-width="0.6"/>
<circle cx="107.2" cy="596.3" r="3.6" fill="#e8086a" stroke="#000" stroke-width="0.6"/>
<rect x="97.4" y="529.3" width="18" height="46.7" fill="none" stroke="#000" stroke-width="2.2"/>
<line x1="97.4" y1="555.5" x2="115.4" y2="555.5" stroke="#000" stroke-width="2.2"/>
<line x1="110.2" y1="584" x2="110.2" y2="638.6" stroke="#000" stroke-width="0.9"/>
<line x1="101.4" y1="584" x2="119" y2="584" stroke="#000" stroke-width="1.0"/>
<line x1="101.4" y1="638.6" x2="119" y2="638.6" stroke="#000" stroke-width="1.0"/>
<rect x="101.4" y="589.6" width="17.6" height="41.8" fill="#fcd890" fill-opacity="1"/>
<circle cx="109.3" cy="605.6" r="3.6" fill="#fcd08a" stroke="#000" stroke-width="0.6"/>
<circle cx="115.6" cy="597.2" r="3.6" fill="#f8c880" stroke="#000" stroke-width="0.6"/>
<circle cx="116.7" cy="608.9" r="3.6" fill="#fdd898" stroke="#000" stroke-width="0.6"/>
<circle cx="110.1" cy="630" r="3.6" fill="#fcd08a" stroke="#000" stroke-width="0.6"/>
<circle cx="102.4" cy="595.3" r="3.6" fill="#f8c880" stroke="#000" stroke-width="0.6"/>
<circle cx="115.2" cy="599.7" r="3.6" fill="#fdd898" stroke="#000" stroke-width="0.6"/>
<circle cx="114.5" cy="615" r="3.6" fill="#fcd08a" stroke="#000" stroke-width="0.6"/>
<circle cx="114.3" cy="589.6" r="3.6" fill="#f8c880" stroke="#000" stroke-width="0.6"/>
<circle cx="102.6" cy="639.2" r="3.6" fill="#fdd898" stroke="#000" stroke-width="0.6"/>
<circle cx="115.9" cy="591.5" r="3.6" fill="#fcd08a" stroke="#000" stroke-width="0.6"/>
<circle cx="107.3" cy="605.4" r="3.6" fill="#f8c880" stroke="#000" stroke-width="0.6"/>
<circle cx="116.3" cy="631.6" r="3.6" fill="#fdd898" stroke="#000" stroke-width="0.6"/>
<circle cx="106.2" cy="639.6" r="3.6" fill="#fcd08a" stroke="#000" stroke-width="0.6"/>
<circle cx="103.8" cy="616.4" r="3.6" fill="#f8c880" stroke="#000" stroke-width="0.6"/>
<circle cx="115.6" cy="612.2" r="3.6" fill="#fdd898" stroke="#000" stroke-width="0.6"/>
<circle cx="110.4" cy="602.6" r="3.6" fill="#fcd08a" stroke="#000" stroke-width="0.6"/>
<circle cx="103.3" cy="621.3" r="3.6" fill="#f8c880" stroke="#000" stroke-width="0.6"/>
<circle cx="108.1" cy="600.1" r="3.6" fill="#fdd898" stroke="#000" stroke-width="0.6"/>
<circle cx="113.3" cy="635.3" r="3.6" fill="#fcd08a" stroke="#000" stroke-width="0.6"/>
<circle cx="106" cy="618.9" r="3.6" fill="#f8c880" stroke="#000" stroke-width="0.6"/>
<circle cx="105.8" cy="631.8" r="3.6" fill="#fdd898" stroke="#000" stroke-width="0.6"/>
<circle cx="106.6" cy="627.1" r="3.6" fill="#fcd08a" stroke="#000" stroke-width="0.6"/>
<circle cx="103.1" cy="637.1" r="3.6" fill="#f8c880" stroke="#000" stroke-width="0.6"/>
<circle cx="116.5" cy="590.3" r="3.6" fill="#fdd898" stroke="#000" stroke-width="0.6"/>
<circle cx="111.6" cy="593.3" r="3.6" fill="#fcd08a" stroke="#000" stroke-width="0.6"/>
<circle cx="111.4" cy="604.1" r="3.6" fill="#f8c880" stroke="#000" stroke-width="0.6"/>
<circle cx="109.8" cy="618.4" r="3.6" fill="#fdd898" stroke="#000" stroke-width="0.6"/>
<circle cx="114" cy="611.8" r="3.6" fill="#fcd08a" stroke="#000" stroke-width="0.6"/>
<circle cx="113.4" cy="594.2" r="3.6" fill="#f8c880" stroke="#000" stroke-width="0.6"/>
<circle cx="114.8" cy="585.8" r="3.6" fill="#fdd898" stroke="#000" stroke-width="0.6"/>
<rect x="101.4" y="589.6" width="17.6" height="41.8" fill="none" stroke="#000" stroke-width="2.0"/>
<line x1="101.4" y1="612" x2="119" y2="612" stroke="#000" stroke-width="2.0"/>
<circle cx="108.6" cy="601.4" r="3.6" fill="#f0106a" stroke="#000" stroke-width="0.6"/>
<circle cx="111.9" cy="591.7" r="3.6" fill="#ff2a7a" stroke="#000" stroke-width="0.6"/>
<circle cx="110.9" cy="621" r="3.6" fill="#e8086a" stroke="#000" stroke-width="0.6"/>
<circle cx="109.4" cy="617" r="3.6" fill="#f0106a" stroke="#000" stroke-width="0.6"/>
<circle cx="106" cy="586.8" r="3.6" fill="#ff2a7a" stroke="#000" stroke-width="0.6"/>
<circle cx="101.3" cy="593.9" r="3.6" fill="#e8086a" stroke="#000" stroke-width="0.6"/>
<circle cx="112.3" cy="612.5" r="3.6" fill="#f0106a" stroke="#000" stroke-width="0.6"/>
<circle cx="105.1" cy="623" r="3.6" fill="#ff2a7a" stroke="#000" stroke-width="0.6"/>
<line x1="79.7" y1="506.7" x2="79.7" y2="600" stroke="#000" stroke-width="0.9"/>
<line x1="71.7" y1="506.7" x2="88.2" y2="506.7" stroke="#000" stroke-width="1.0"/>
<line x1="71.7" y1="536.7" x2="88.2" y2="536.7" stroke="#000" stroke-width="1.0"/>
<rect x="76.5" y="502.5" width="7" height="7" fill="#a00000" stroke="#000" stroke-width="0.6"/>
<rect x="81" y="508.5" width="7" height="7" fill="#a00000" stroke="#000" stroke-width="0.6"/>
<rect x="72.5" y="512" width="7" height="7" fill="#a00000" stroke="#000" stroke-width="0.6"/>
<circle cx="79.7" cy="528" r="3.6" fill="#a00000" stroke="#000" stroke-width="0.7"/>
<rect x="77" y="530" width="6" height="6" fill="#ff1010" stroke="#000" stroke-width="0.6"/>
<rect x="77" y="537" width="6" height="6" fill="#ff1010" stroke="#000" stroke-width="0.6"/>
<circle cx="75.5" cy="545" r="3.6" fill="#ff1010" stroke="#000" stroke-width="0.7"/>
<circle cx="84" cy="545" r="3.6" fill="#ff1010" stroke="#000" stroke-width="0.7"/>
<circle cx="79.7" cy="548" r="3.6" fill="#ff1010" stroke="#000" stroke-width="0.7"/>
<circle cx="75.5" cy="557" r="3.6" fill="#a00000" stroke="#000" stroke-width="0.7"/>
<circle cx="84" cy="556" r="3.6" fill="#a00000" stroke="#000" stroke-width="0.7"/>
<line x1="79.7" y1="563" x2="79.7" y2="596" stroke="#000" stroke-width="0.9"/>
<line x1="71.7" y1="563" x2="87.7" y2="563" stroke="#000" stroke-width="1.0"/>
<line x1="71.7" y1="596" x2="87.7" y2="596" stroke="#000" stroke-width="1.0"/>
<rect x="70.1" y="568.2" width="19.2" height="21.8" fill="#a00000" fill-opacity="1"/>
<circle cx="81.4" cy="568.3" r="3.6" fill="#a00000" stroke="#000" stroke-width="0.6"/>
<circle cx="84.8" cy="564.9" r="3.6" fill="#8b0000" stroke="#000" stroke-width="0.6"/>
<circle cx="81.5" cy="592.2" r="3.6" fill="#b00000" stroke="#000" stroke-width="0.6"/>
<circle cx="74.9" cy="591.8" r="3.6" fill="#a00000" stroke="#000" stroke-width="0.6"/>
<circle cx="76.8" cy="591.6" r="3.6" fill="#8b0000" stroke="#000" stroke-width="0.6"/>
<circle cx="86.5" cy="578.4" r="3.6" fill="#b00000" stroke="#000" stroke-width="0.6"/>
<circle cx="84.5" cy="578.2" r="3.6" fill="#a00000" stroke="#000" stroke-width="0.6"/>
<circle cx="72.5" cy="567.7" r="3.6" fill="#8b0000" stroke="#000" stroke-width="0.6"/>
<circle cx="86.4" cy="594" r="3.6" fill="#b00000" stroke="#000" stroke-width="0.6"/>
<circle cx="79.6" cy="588.2" r="3.6" fill="#a00000" stroke="#000" stroke-width="0.6"/>
<circle cx="72.4" cy="568.3" r="3.6" fill="#8b0000" stroke="#000" stroke-width="0.6"/>
<circle cx="86" cy="590.9" r="3.6" fill="#b00000" stroke="#000" stroke-width="0.6"/>
<circle cx="82.2" cy="568.7" r="3.6" fill="#a00000" stroke="#000" stroke-width="0.6"/>
<circle cx="79.6" cy="578.2" r="3.6" fill="#8b0000" stroke="#000" stroke-width="0.6"/>
<circle cx="79.9" cy="577.4" r="3.6" fill="#b00000" stroke="#000" stroke-width="0.6"/>
<circle cx="75.3" cy="562.4" r="3.6" fill="#a00000" stroke="#000" stroke-width="0.6"/>
<circle cx="78.1" cy="568.5" r="3.6" fill="#8b0000" stroke="#000" stroke-width="0.6"/>
<circle cx="87.4" cy="573.9" r="3.6" fill="#b00000" stroke="#000" stroke-width="0.6"/>
<circle cx="82.9" cy="593.3" r="3.6" fill="#a00000" stroke="#000" stroke-width="0.6"/>
<circle cx="80.7" cy="573.3" r="3.6" fill="#8b0000" stroke="#000" stroke-width="0.6"/>
<circle cx="77.6" cy="577.2" r="3.6" fill="#b00000" stroke="#000" stroke-width="0.6"/>
<circle cx="84.1" cy="590.8" r="3.6" fill="#a00000" stroke="#000" stroke-width="0.6"/>
<circle cx="77.6" cy="585.7" r="3.6" fill="#8b0000" stroke="#000" stroke-width="0.6"/>
<circle cx="77.5" cy="574.5" r="3.6" fill="#b00000" stroke="#000" stroke-width="0.6"/>
<circle cx="83.5" cy="584.8" r="3.6" fill="#a00000" stroke="#000" stroke-width="0.6"/>
<circle cx="80.8" cy="589.1" r="3.6" fill="#8b0000" stroke="#000" stroke-width="0.6"/>
<circle cx="84.5" cy="570.7" r="3.6" fill="#b00000" stroke="#000" stroke-width="0.6"/>
<circle cx="87.1" cy="582.4" r="3.6" fill="#a00000" stroke="#000" stroke-width="0.6"/>
<circle cx="74.3" cy="573.4" r="3.6" fill="#8b0000" stroke="#000" stroke-width="0.6"/>
<circle cx="71.7" cy="590.2" r="3.6" fill="#b00000" stroke="#000" stroke-width="0.6"/>
<circle cx="81.4" cy="565.8" r="3.6" fill="#a00000" stroke="#000" stroke-width="0.6"/>
<circle cx="75.7" cy="584.9" r="3.6" fill="#8b0000" stroke="#000" stroke-width="0.6"/>
<circle cx="80.6" cy="561.2" r="3.6" fill="#b00000" stroke="#000" stroke-width="0.6"/>
<circle cx="87.6" cy="588.1" r="3.6" fill="#a00000" stroke="#000" stroke-width="0.6"/>
<rect x="70.1" y="568.2" width="19.2" height="21.8" fill="none" stroke="#000" stroke-width="2.0"/>
<line x1="70.1" y1="581.7" x2="89.3" y2="581.7" stroke="#000" stroke-width="2.0"/>
<circle cx="71" cy="592" r="3.6" fill="#ffffff" stroke="#000" stroke-width="0.7"/>
<circle cx="88" cy="592" r="3.6" fill="#ffffff" stroke="#000" stroke-width="0.7"/>
<circle cx="72" cy="597" r="3.6" fill="#ffffff" stroke="#000" stroke-width="0.7"/>
<circle cx="74.8" cy="600.6" r="3.6" fill="#ff1010" stroke="#000" stroke-width="0.7"/>
<circle cx="80.5" cy="600.6" r="3.6" fill="#ff1010" stroke="#000" stroke-width="0.7"/>
<line x1="91" y1="596" x2="91" y2="610" stroke="#000" stroke-width="0.9"/>
<line x1="82.2" y1="596" x2="99.8" y2="596" stroke="#000" stroke-width="1.0"/>
<line x1="82.2" y1="610" x2="99.8" y2="610" stroke="#000" stroke-width="1.0"/>
<rect x="82.2" y="601.7" width="17.6" height="4.8" fill="#c86a6a" fill-opacity="1"/>
<circle cx="89.1" cy="600" r="3.6" fill="#e89090" stroke="#000" stroke-width="0.6"/>
<circle cx="93.9" cy="606.3" r="3.6" fill="#e08080" stroke="#000" stroke-width="0.6"/>
<circle cx="87.1" cy="599.6" r="3.6" fill="#e89090" stroke="#000" stroke-width="0.6"/>
<circle cx="88.5" cy="599" r="3.6" fill="#e08080" stroke="#000" stroke-width="0.6"/>
<circle cx="87.9" cy="603.2" r="3.6" fill="#e89090" stroke="#000" stroke-width="0.6"/>
<circle cx="95.7" cy="596.2" r="3.6" fill="#e08080" stroke="#000" stroke-width="0.6"/>
<circle cx="86.2" cy="604.7" r="3.6" fill="#e89090" stroke="#000" stroke-width="0.6"/>
<circle cx="87.8" cy="606.4" r="3.6" fill="#e08080" stroke="#000" stroke-width="0.6"/>
<rect x="82.2" y="601.7" width="17.6" height="4.8" fill="none" stroke="#000" stroke-width="1.8"/>
<line x1="82.2" y1="604" x2="99.8" y2="604" stroke="#000" stroke-width="1.8"/>
<line x1="89.4" y1="620.1" x2="89.4" y2="639.7" stroke="#000" stroke-width="0.9"/>
<line x1="80.6" y1="620.1" x2="98.2" y2="620.1" stroke="#000" stroke-width="1.0"/>
<line x1="80.6" y1="639.7" x2="98.2" y2="639.7" stroke="#000" stroke-width="1.0"/>
<rect x="80.6" y="626.6" width="17.6" height="3.2" fill="#ff10e0" fill-opacity="1"/>
<circle cx="89.4" cy="619.5" r="3.6" fill="#ff10e0" stroke="#000" stroke-width="0.7"/>
<circle cx="86" cy="624" r="3.6" fill="#ff10e0" stroke="#000" stroke-width="0.7"/>
<circle cx="92" cy="624" r="3.6" fill="#ff10e0" stroke="#000" stroke-width="0.7"/>
<circle cx="82.5" cy="628.5" r="3.6" fill="#ff10e0" stroke="#000" stroke-width="0.7"/>
<circle cx="86" cy="633" r="3.6" fill="#ff10e0" stroke="#000" stroke-width="0.7"/>
<circle cx="89.6" cy="639.5" r="3.6" fill="#ff10e0" stroke="#000" stroke-width="0.7"/>
<rect x="80.6" y="626.6" width="17.6" height="3.2" fill="none" stroke="#000" stroke-width="1.8"/>
<line x1="80.6" y1="628.2" x2="98.2" y2="628.2" stroke="#000" stroke-width="1.8"/>
<line x1="131.6" y1="528.9" x2="131.6" y2="620" stroke="#000" stroke-width="0.9"/>
<line x1="122.6" y1="528.9" x2="140.6" y2="528.9" stroke="#000" stroke-width="1.0"/>
<line x1="122.6" y1="620" x2="140.6" y2="620" stroke="#000" stroke-width="1.0"/>
<rect x="122.6" y="586.4" width="18" height="27.3" fill="#fde8c8" fill-opacity="1"/>
<circle cx="132.4" cy="597.1" r="3.6" fill="#fde2c0" stroke="#000" stroke-width="0.6"/>
<circle cx="139" cy="606.5" r="3.6" fill="#fcdcb4" stroke="#000" stroke-width="0.6"/>
<circle cx="124.2" cy="593" r="3.6" fill="#fde2c0" stroke="#000" stroke-width="0.6"/>
<circle cx="128.9" cy="591.6" r="3.6" fill="#fcdcb4" stroke="#000" stroke-width="0.6"/>
<circle cx="130.4" cy="592.1" r="3.6" fill="#fde2c0" stroke="#000" stroke-width="0.6"/>
<circle cx="138.8" cy="598" r="3.6" fill="#fcdcb4" stroke="#000" stroke-width="0.6"/>
<circle cx="130.6" cy="612.6" r="3.6" fill="#fde2c0" stroke="#000" stroke-width="0.6"/>
<circle cx="137.7" cy="596.2" r="3.6" fill="#fcdcb4" stroke="#000" stroke-width="0.6"/>
<circle cx="137.8" cy="605.6" r="3.6" fill="#fde2c0" stroke="#000" stroke-width="0.6"/>
<circle cx="123.9" cy="597.8" r="3.6" fill="#fcdcb4" stroke="#000" stroke-width="0.6"/>
<circle cx="126.8" cy="594.4" r="3.6" fill="#fde2c0" stroke="#000" stroke-width="0.6"/>
<circle cx="133" cy="603.4" r="3.6" fill="#fcdcb4" stroke="#000" stroke-width="0.6"/>
<circle cx="136.4" cy="589.1" r="3.6" fill="#fde2c0" stroke="#000" stroke-width="0.6"/>
<circle cx="130.2" cy="605.1" r="3.6" fill="#fcdcb4" stroke="#000" stroke-width="0.6"/>
<circle cx="131.1" cy="598.3" r="3.6" fill="#fde2c0" stroke="#000" stroke-width="0.6"/>
<circle cx="131.4" cy="605.1" r="3.6" fill="#fcdcb4" stroke="#000" stroke-width="0.6"/>
<circle cx="133.6" cy="611.2" r="3.6" fill="#fde2c0" stroke="#000" stroke-width="0.6"/>
<circle cx="136" cy="596.1" r="3.6" fill="#fcdcb4" stroke="#000" stroke-width="0.6"/>
<rect x="122.6" y="586.4" width="18" height="27.3" fill="none" stroke="#000" stroke-width="2.0"/>
<line x1="122.6" y1="600" x2="140.6" y2="600" stroke="#000" stroke-width="2.0"/>
<circle cx="131.5" cy="528" r="3.6" fill="#fde2c0" stroke="#000" stroke-width="0.7"/>
<circle cx="124.8" cy="536" r="3.6" fill="#fde2c0" stroke="#000" stroke-width="0.7"/>
<circle cx="137.8" cy="533.5" r="3.6" fill="#fde2c0" stroke="#000" stroke-width="0.7"/>
<circle cx="124" cy="573" r="3.6" fill="#fde2c0" stroke="#000" stroke-width="0.7"/>
<circle cx="137" cy="572" r="3.6" fill="#fde2c0" stroke="#000" stroke-width="0.7"/>
<line x1="156.7" y1="567" x2="156.7" y2="640.2" stroke="#000" stroke-width="0.9"/>
<line x1="147.8" y1="567" x2="165.6" y2="567" stroke="#000" stroke-width="1.0"/>
<line x1="147.8" y1="640.2" x2="165.6" y2="640.2" stroke="#000" stroke-width="1.0"/>
<rect x="147.8" y="579.3" width="17.8" height="46.5" fill="#c8860a" fill-opacity="1"/>
<circle cx="151.7" cy="609.6" r="3.6" fill="#d8961a" stroke="#000" stroke-width="0.6"/>
<circle cx="163" cy="616.1" r="3.6" fill="#e0a020" stroke="#000" stroke-width="0.6"/>
<circle cx="158" cy="600.5" r="3.6" fill="#c88a10" stroke="#000" stroke-width="0.6"/>
<circle cx="149.6" cy="570.7" r="3.6" fill="#d8961a" stroke="#000" stroke-width="0.6"/>
<circle cx="163.9" cy="584.7" r="3.6" fill="#e0a020" stroke="#000" stroke-width="0.6"/>
<circle cx="153.8" cy="573.1" r="3.6" fill="#c88a10" stroke="#000" stroke-width="0.6"/>
<circle cx="163" cy="615.7" r="3.6" fill="#d8961a" stroke="#000" stroke-width="0.6"/>
<circle cx="159" cy="638.8" r="3.6" fill="#e0a020" stroke="#000" stroke-width="0.6"/>
<circle cx="155.7" cy="568.5" r="3.6" fill="#c88a10" stroke="#000" stroke-width="0.6"/>
<circle cx="153.6" cy="634.2" r="3.6" fill="#d8961a" stroke="#000" stroke-width="0.6"/>
<circle cx="163.5" cy="565.4" r="3.6" fill="#e0a020" stroke="#000" stroke-width="0.6"/>
<circle cx="160.4" cy="633.6" r="3.6" fill="#c88a10" stroke="#000" stroke-width="0.6"/>
<circle cx="160.2" cy="577.8" r="3.6" fill="#d8961a" stroke="#000" stroke-width="0.6"/>
<circle cx="152.7" cy="574.7" r="3.6" fill="#e0a020" stroke="#000" stroke-width="0.6"/>
<circle cx="152.1" cy="566.9" r="3.6" fill="#c88a10" stroke="#000" stroke-width="0.6"/>
<circle cx="160.6" cy="633.3" r="3.6" fill="#d8961a" stroke="#000" stroke-width="0.6"/>
<circle cx="158.3" cy="617.1" r="3.6" fill="#e0a020" stroke="#000" stroke-width="0.6"/>
<circle cx="150.1" cy="581.8" r="3.6" fill="#c88a10" stroke="#000" stroke-width="0.6"/>
<circle cx="162.4" cy="584.5" r="3.6" fill="#d8961a" stroke="#000" stroke-width="0.6"/>
<circle cx="149.8" cy="604.8" r="3.6" fill="#e0a020" stroke="#000" stroke-width="0.6"/>
<circle cx="155.9" cy="586.9" r="3.6" fill="#c88a10" stroke="#000" stroke-width="0.6"/>
<circle cx="150.4" cy="578.6" r="3.6" fill="#d8961a" stroke="#000" stroke-width="0.6"/>
<circle cx="162.7" cy="602.7" r="3.6" fill="#e0a020" stroke="#000" stroke-width="0.6"/>
<circle cx="155.7" cy="582.8" r="3.6" fill="#c88a10" stroke="#000" stroke-width="0.6"/>
<circle cx="157.7" cy="626.4" r="3.6" fill="#d8961a" stroke="#000" stroke-width="0.6"/>
<circle cx="160.1" cy="613.6" r="3.6" fill="#e0a020" stroke="#000" stroke-width="0.6"/>
<rect x="147.8" y="579.3" width="17.8" height="46.5" fill="none" stroke="#000" stroke-width="2.0"/>
<line x1="147.8" y1="612" x2="165.6" y2="612" stroke="#000" stroke-width="2.0"/>
<line x1="135.1" y1="605" x2="135.1" y2="664.3" stroke="#000" stroke-width="0.9"/>
<line x1="125.5" y1="605" x2="144.7" y2="605" stroke="#000" stroke-width="1.0"/>
<line x1="125.5" y1="664.3" x2="144.7" y2="664.3" stroke="#000" stroke-width="1.0"/>
<rect x="125.5" y="619.3" width="19.2" height="9.7" fill="#a06010" fill-opacity="1"/>
<circle cx="127.1" cy="642.3" r="3.6" fill="#a86820" stroke="#000" stroke-width="0.6"/>
<circle cx="127.7" cy="629.7" r="3.6" fill="#8b5010" stroke="#000" stroke-width="0.6"/>
<circle cx="127" cy="608.3" r="3.6" fill="#b87828" stroke="#000" stroke-width="0.6"/>
<circle cx="141.8" cy="609.1" r="3.6" fill="#a86820" stroke="#000" stroke-width="0.6"/>
<circle cx="126.5" cy="608.8" r="3.6" fill="#8b5010" stroke="#000" stroke-width="0.6"/>
<circle cx="139.9" cy="613.2" r="3.6" fill="#b87828" stroke="#000" stroke-width="0.6"/>
<circle cx="135.9" cy="627.6" r="3.6" fill="#a86820" stroke="#000" stroke-width="0.6"/>
<circle cx="131.7" cy="634.3" r="3.6" fill="#8b5010" stroke="#000" stroke-width="0.6"/>
<circle cx="135" cy="641.1" r="3.6" fill="#b87828" stroke="#000" stroke-width="0.6"/>
<circle cx="130.8" cy="616" r="3.6" fill="#a86820" stroke="#000" stroke-width="0.6"/>
<circle cx="140.3" cy="651.1" r="3.6" fill="#8b5010" stroke="#000" stroke-width="0.6"/>
<circle cx="135.3" cy="628.9" r="3.6" fill="#b87828" stroke="#000" stroke-width="0.6"/>
<circle cx="126.5" cy="631.6" r="3.6" fill="#a86820" stroke="#000" stroke-width="0.6"/>
<circle cx="137.8" cy="604.3" r="3.6" fill="#8b5010" stroke="#000" stroke-width="0.6"/>
<circle cx="142.1" cy="635" r="3.6" fill="#b87828" stroke="#000" stroke-width="0.6"/>
<circle cx="139.5" cy="632" r="3.6" fill="#a86820" stroke="#000" stroke-width="0.6"/>
<circle cx="133.3" cy="629.4" r="3.6" fill="#8b5010" stroke="#000" stroke-width="0.6"/>
<circle cx="143.3" cy="623.7" r="3.6" fill="#b87828" stroke="#000" stroke-width="0.6"/>
<circle cx="142" cy="648.5" r="3.6" fill="#a86820" stroke="#000" stroke-width="0.6"/>
<circle cx="130" cy="629.8" r="3.6" fill="#8b5010" stroke="#000" stroke-width="0.6"/>
<circle cx="142.5" cy="604.1" r="3.6" fill="#b87828" stroke="#000" stroke-width="0.6"/>
<circle cx="132.5" cy="605.4" r="3.6" fill="#a86820" stroke="#000" stroke-width="0.6"/>
<circle cx="129.8" cy="642.3" r="3.6" fill="#8b5010" stroke="#000" stroke-width="0.6"/>
<circle cx="130.4" cy="641.5" r="3.6" fill="#b87828" stroke="#000" stroke-width="0.6"/>
<circle cx="138.9" cy="640.8" r="3.6" fill="#a86820" stroke="#000" stroke-width="0.6"/>
<circle cx="132.2" cy="614.9" r="3.6" fill="#8b5010" stroke="#000" stroke-width="0.6"/>
<circle cx="136.5" cy="618.9" r="3.6" fill="#b87828" stroke="#000" stroke-width="0.6"/>
<circle cx="135.9" cy="647.1" r="3.6" fill="#a86820" stroke="#000" stroke-width="0.6"/>
<circle cx="133.1" cy="621.7" r="3.6" fill="#8b5010" stroke="#000" stroke-width="0.6"/>
<circle cx="138.2" cy="609.1" r="3.6" fill="#b87828" stroke="#000" stroke-width="0.6"/>
<circle cx="142.2" cy="625.8" r="3.6" fill="#a86820" stroke="#000" stroke-width="0.6"/>
<circle cx="143.3" cy="626.8" r="3.6" fill="#8b5010" stroke="#000" stroke-width="0.6"/>
<circle cx="135.4" cy="622.9" r="3.6" fill="#b87828" stroke="#000" stroke-width="0.6"/>
<circle cx="140.3" cy="609.5" r="3.6" fill="#a86820" stroke="#000" stroke-width="0.6"/>
<circle cx="129.3" cy="601.5" r="3.6" fill="#8b5010" stroke="#000" stroke-width="0.6"/>
<circle cx="141.2" cy="616.4" r="3.6" fill="#b87828" stroke="#000" stroke-width="0.6"/>
<circle cx="131.6" cy="631.8" r="3.6" fill="#a86820" stroke="#000" stroke-width="0.6"/>
<circle cx="141.1" cy="647.6" r="3.6" fill="#8b5010" stroke="#000" stroke-width="0.6"/>
<circle cx="130.5" cy="601.6" r="3.6" fill="#b87828" stroke="#000" stroke-width="0.6"/>
<circle cx="141.8" cy="636.3" r="3.6" fill="#a86820" stroke="#000" stroke-width="0.6"/>
<circle cx="142" cy="638.6" r="3.6" fill="#8b5010" stroke="#000" stroke-width="0.6"/>
<circle cx="126.2" cy="606.5" r="3.6" fill="#b87828" stroke="#000" stroke-width="0.6"/>
<circle cx="127.2" cy="622.9" r="3.6" fill="#a86820" stroke="#000" stroke-width="0.6"/>
<circle cx="142.6" cy="634.4" r="3.6" fill="#8b5010" stroke="#000" stroke-width="0.6"/>
<circle cx="136.5" cy="621.8" r="3.6" fill="#b87828" stroke="#000" stroke-width="0.6"/>
<circle cx="129.1" cy="620.2" r="3.6" fill="#a86820" stroke="#000" stroke-width="0.6"/>
<circle cx="139" cy="606.1" r="3.6" fill="#8b5010" stroke="#000" stroke-width="0.6"/>
<circle cx="132.7" cy="647" r="3.6" fill="#b87828" stroke="#000" stroke-width="0.6"/>
<circle cx="141" cy="607.1" r="3.6" fill="#a86820" stroke="#000" stroke-width="0.6"/>
<circle cx="139.9" cy="613.6" r="3.6" fill="#8b5010" stroke="#000" stroke-width="0.6"/>
<circle cx="131.7" cy="633.9" r="3.6" fill="#b87828" stroke="#000" stroke-width="0.6"/>
<circle cx="132.8" cy="626.6" r="3.6" fill="#a86820" stroke="#000" stroke-width="0.6"/>
<circle cx="130.1" cy="606.5" r="3.6" fill="#8b5010" stroke="#000" stroke-width="0.6"/>
<circle cx="140.1" cy="629.7" r="3.6" fill="#b87828" stroke="#000" stroke-width="0.6"/>
<circle cx="129.7" cy="604.7" r="3.6" fill="#a86820" stroke="#000" stroke-width="0.6"/>
<rect x="125.5" y="619.3" width="19.2" height="9.7" fill="none" stroke="#000" stroke-width="2.0"/>
<line x1="125.5" y1="624" x2="144.7" y2="624" stroke="#000" stroke-width="2.0"/>
<circle cx="131" cy="643" r="3.6" fill="#f4b0b0" stroke="#000" stroke-width="0.7"/>
<circle cx="129" cy="652" r="3.6" fill="#f4b0b0" stroke="#000" stroke-width="0.7"/>
<circle cx="134" cy="660" r="3.6" fill="#f4b0b0" stroke="#000" stroke-width="0.7"/>
<circle cx="139" cy="655" r="3.6" fill="#f4b0b0" stroke="#000" stroke-width="0.7"/>
<circle cx="133" cy="664" r="3.6" fill="#f4b0b0" stroke="#000" stroke-width="0.7"/>
<rect x="134.5" y="655.5" width="5" height="5" fill="#f08040" stroke="#000" stroke-width="0.6"/>
<line x1="198" y1="587" x2="198" y2="612" stroke="#000" stroke-width="0.9"/>
<line x1="189.4" y1="587" x2="206.6" y2="587" stroke="#000" stroke-width="1.0"/>
<line x1="189.4" y1="612" x2="206.6" y2="612" stroke="#000" stroke-width="1.0"/>
<rect x="189.4" y="593.8" width="17.2" height="8.2" fill="#c8c000" fill-opacity="1"/>
<circle cx="204.8" cy="585.3" r="3.6" fill="#c8c010" stroke="#000" stroke-width="0.6"/>
<circle cx="196.3" cy="587.9" r="3.6" fill="#c8c010" stroke="#000" stroke-width="0.6"/>
<circle cx="198" cy="586.5" r="3.6" fill="#c8c010" stroke="#000" stroke-width="0.6"/>
<circle cx="198.3" cy="602.1" r="3.6" fill="#c8c010" stroke="#000" stroke-width="0.6"/>
<circle cx="194" cy="603.3" r="3.6" fill="#c8c010" stroke="#000" stroke-width="0.6"/>
<circle cx="201.8" cy="609.7" r="3.6" fill="#c8c010" stroke="#000" stroke-width="0.6"/>
<circle cx="197.3" cy="590.1" r="3.6" fill="#c8c010" stroke="#000" stroke-width="0.6"/>
<circle cx="202.6" cy="585.5" r="3.6" fill="#c8c010" stroke="#000" stroke-width="0.6"/>
<circle cx="198.3" cy="609.2" r="3.6" fill="#c8c010" stroke="#000" stroke-width="0.6"/>
<circle cx="202.2" cy="594.7" r="3.6" fill="#c8c010" stroke="#000" stroke-width="0.6"/>
<rect x="189.4" y="593.8" width="17.2" height="8.2" fill="none" stroke="#000" stroke-width="2.0"/>
<line x1="189.4" y1="598" x2="206.6" y2="598" stroke="#000" stroke-width="2.0"/>
<line x1="209.8" y1="527.6" x2="209.8" y2="622" stroke="#000" stroke-width="0.9"/>
<line x1="201.4" y1="527.6" x2="218.2" y2="527.6" stroke="#000" stroke-width="1.0"/>
<line x1="201.4" y1="622" x2="218.2" y2="622" stroke="#000" stroke-width="1.0"/>
<rect x="201.4" y="597.2" width="16.8" height="19.8" fill="#fdf5c0" fill-opacity="1"/>
<circle cx="203.5" cy="605.1" r="3.6" fill="#fdf0b0" stroke="#000" stroke-width="0.6"/>
<circle cx="208.5" cy="611.3" r="3.6" fill="#fdf0b0" stroke="#000" stroke-width="0.6"/>
<circle cx="210" cy="617.9" r="3.6" fill="#fdf0b0" stroke="#000" stroke-width="0.6"/>
<circle cx="213.8" cy="600.3" r="3.6" fill="#fdf0b0" stroke="#000" stroke-width="0.6"/>
<circle cx="204.5" cy="617.2" r="3.6" fill="#fdf0b0" stroke="#000" stroke-width="0.6"/>
<circle cx="209.6" cy="604.4" r="3.6" fill="#fdf0b0" stroke="#000" stroke-width="0.6"/>
<circle cx="212.6" cy="612.1" r="3.6" fill="#fdf0b0" stroke="#000" stroke-width="0.6"/>
<circle cx="214.9" cy="610.5" r="3.6" fill="#fdf0b0" stroke="#000" stroke-width="0.6"/>
<rect x="201.4" y="597.2" width="16.8" height="19.8" fill="none" stroke="#000" stroke-width="2.0"/>
<line x1="201.4" y1="607" x2="218.2" y2="607" stroke="#000" stroke-width="2.0"/>
<circle cx="209.8" cy="527.6" r="3.6" fill="#fdf0b0" stroke="#000" stroke-width="0.7"/>
<line x1="216.3" y1="603" x2="216.3" y2="641.4" stroke="#000" stroke-width="0.9"/>
<line x1="207.7" y1="603" x2="224.9" y2="603" stroke="#000" stroke-width="1.0"/>
<line x1="207.7" y1="641.4" x2="224.9" y2="641.4" stroke="#000" stroke-width="1.0"/>
<rect x="207.7" y="607.7" width="17.2" height="10.5" fill="#f0f000" fill-opacity="1"/>
<circle cx="209.6" cy="619.1" r="3.6" fill="#f0f000" stroke="#000" stroke-width="0.6"/>
<circle cx="220.9" cy="625.2" r="3.6" fill="#e8e800" stroke="#000" stroke-width="0.6"/>
<circle cx="220.3" cy="617.5" r="3.6" fill="#f0f000" stroke="#000" stroke-width="0.6"/>
<circle cx="210" cy="621.5" r="3.6" fill="#e8e800" stroke="#000" stroke-width="0.6"/>
<circle cx="211.3" cy="616.5" r="3.6" fill="#f0f000" stroke="#000" stroke-width="0.6"/>
<circle cx="220.8" cy="606.7" r="3.6" fill="#e8e800" stroke="#000" stroke-width="0.6"/>
<circle cx="213.5" cy="614.3" r="3.6" fill="#f0f000" stroke="#000" stroke-width="0.6"/>
<circle cx="216" cy="605" r="3.6" fill="#e8e800" stroke="#000" stroke-width="0.6"/>
<circle cx="214.7" cy="602.8" r="3.6" fill="#f0f000" stroke="#000" stroke-width="0.6"/>
<circle cx="214.5" cy="622.3" r="3.6" fill="#e8e800" stroke="#000" stroke-width="0.6"/>
<circle cx="222.6" cy="613.4" r="3.6" fill="#f0f000" stroke="#000" stroke-width="0.6"/>
<circle cx="213.2" cy="609.4" r="3.6" fill="#e8e800" stroke="#000" stroke-width="0.6"/>
<circle cx="214.7" cy="610.8" r="3.6" fill="#f0f000" stroke="#000" stroke-width="0.6"/>
<circle cx="209.5" cy="625" r="3.6" fill="#e8e800" stroke="#000" stroke-width="0.6"/>
<circle cx="220.3" cy="603.9" r="3.6" fill="#f0f000" stroke="#000" stroke-width="0.6"/>
<circle cx="215.4" cy="600.1" r="3.6" fill="#e8e800" stroke="#000" stroke-width="0.6"/>
<rect x="207.7" y="607.7" width="17.2" height="10.5" fill="none" stroke="#000" stroke-width="2.0"/>
<line x1="207.7" y1="613" x2="224.9" y2="613" stroke="#000" stroke-width="2.0"/>
<circle cx="216.3" cy="641.4" r="3.6" fill="#e8e800" stroke="#000" stroke-width="0.7"/>
<line x1="285.7" y1="576" x2="285.7" y2="615" stroke="#000" stroke-width="0.9"/>
<line x1="277" y1="576.5" x2="294" y2="576.5" stroke="#000" stroke-width="1"/>
<rect x="282.2" y="572.8" width="7" height="7" fill="#6a9a10" stroke="#000" stroke-width="0.6"/>
<circle cx="263.9" cy="633.9" r="3.6" fill="#2e8b20" stroke="#000" stroke-width="0.6"/>
<circle cx="267.5" cy="618.7" r="3.6" fill="#1a6a1a" stroke="#000" stroke-width="0.6"/>
<circle cx="273" cy="626.5" r="3.6" fill="#3a9a30" stroke="#000" stroke-width="0.6"/>
<circle cx="264.5" cy="636.5" r="3.6" fill="#1e7a28" stroke="#000" stroke-width="0.6"/>
<circle cx="275.1" cy="615.7" r="3.6" fill="#2e8b20" stroke="#000" stroke-width="0.6"/>
<circle cx="268.2" cy="640.9" r="3.6" fill="#1a6a1a" stroke="#000" stroke-width="0.6"/>
<circle cx="265.2" cy="608.3" r="3.6" fill="#3a9a30" stroke="#000" stroke-width="0.6"/>
<circle cx="265.1" cy="637.7" r="3.6" fill="#1e7a28" stroke="#000" stroke-width="0.6"/>
<circle cx="266.1" cy="614.6" r="3.6" fill="#2e8b20" stroke="#000" stroke-width="0.6"/>
<circle cx="273.3" cy="622.6" r="3.6" fill="#1a6a1a" stroke="#000" stroke-width="0.6"/>
<circle cx="270.6" cy="611.5" r="3.6" fill="#3a9a30" stroke="#000" stroke-width="0.6"/>
<circle cx="270.9" cy="643.1" r="3.6" fill="#1e7a28" stroke="#000" stroke-width="0.6"/>
<circle cx="274.7" cy="625.5" r="3.6" fill="#2e8b20" stroke="#000" stroke-width="0.6"/>
<circle cx="270.1" cy="628.3" r="3.6" fill="#1a6a1a" stroke="#000" stroke-width="0.6"/>
<circle cx="265.3" cy="639.7" r="3.6" fill="#3a9a30" stroke="#000" stroke-width="0.6"/>
<circle cx="278.8" cy="614.2" r="3.6" fill="#1e7a28" stroke="#000" stroke-width="0.6"/>
<circle cx="264.2" cy="616.6" r="3.6" fill="#2e8b20" stroke="#000" stroke-width="0.6"/>
<circle cx="278.1" cy="612.6" r="3.6" fill="#1a6a1a" stroke="#000" stroke-width="0.6"/>
<circle cx="271.5" cy="613.4" r="3.6" fill="#3a9a30" stroke="#000" stroke-width="0.6"/>
<circle cx="263.4" cy="635.4" r="3.6" fill="#1e7a28" stroke="#000" stroke-width="0.6"/>
<circle cx="274.8" cy="617.3" r="3.6" fill="#2e8b20" stroke="#000" stroke-width="0.6"/>
<circle cx="268.7" cy="617" r="3.6" fill="#1a6a1a" stroke="#000" stroke-width="0.6"/>
<circle cx="275.8" cy="628.4" r="3.6" fill="#3a9a30" stroke="#000" stroke-width="0.6"/>
<circle cx="265.6" cy="618.6" r="3.6" fill="#1e7a28" stroke="#000" stroke-width="0.6"/>
<circle cx="267.4" cy="607.1" r="3.6" fill="#2e8b20" stroke="#000" stroke-width="0.6"/>
<circle cx="277.6" cy="632.7" r="3.6" fill="#1a6a1a" stroke="#000" stroke-width="0.6"/>
<line x1="265" y1="609" x2="282" y2="609" stroke="#000" stroke-width="1"/>
<line x1="262" y1="622" x2="280" y2="622" stroke="#000" stroke-width="1.4"/>
<line x1="262" y1="626" x2="280" y2="626" stroke="#000" stroke-width="1.4"/>
<circle cx="287.1" cy="628.1" r="3.6" fill="#40a0f0" stroke="#000" stroke-width="0.6"/>
<circle cx="286.4" cy="631.6" r="3.6" fill="#2a8ad8" stroke="#000" stroke-width="0.6"/>
<circle cx="286.9" cy="616.9" r="3.6" fill="#5ab0f0" stroke="#000" stroke-width="0.6"/>
<circle cx="293.7" cy="640.8" r="3.6" fill="#40a0f0" stroke="#000" stroke-width="0.6"/>
<circle cx="298" cy="613.2" r="3.6" fill="#2a8ad8" stroke="#000" stroke-width="0.6"/>
<circle cx="287.3" cy="624.7" r="3.6" fill="#5ab0f0" stroke="#000" stroke-width="0.6"/>
<circle cx="292.2" cy="633.3" r="3.6" fill="#40a0f0" stroke="#000" stroke-width="0.6"/>
<circle cx="291.2" cy="631.8" r="3.6" fill="#2a8ad8" stroke="#000" stroke-width="0.6"/>
<circle cx="285.1" cy="619.6" r="3.6" fill="#5ab0f0" stroke="#000" stroke-width="0.6"/>
<circle cx="291.8" cy="632.8" r="3.6" fill="#40a0f0" stroke="#000" stroke-width="0.6"/>
<circle cx="293.7" cy="625.8" r="3.6" fill="#2a8ad8" stroke="#000" stroke-width="0.6"/>
<circle cx="297.8" cy="628" r="3.6" fill="#5ab0f0" stroke="#000" stroke-width="0.6"/>
<circle cx="298" cy="634.9" r="3.6" fill="#40a0f0" stroke="#000" stroke-width="0.6"/>
<circle cx="293.7" cy="620" r="3.6" fill="#2a8ad8" stroke="#000" stroke-width="0.6"/>
<circle cx="295.8" cy="640.2" r="3.6" fill="#5ab0f0" stroke="#000" stroke-width="0.6"/>
<circle cx="295.4" cy="624.7" r="3.6" fill="#40a0f0" stroke="#000" stroke-width="0.6"/>
<circle cx="289.2" cy="630.5" r="3.6" fill="#2a8ad8" stroke="#000" stroke-width="0.6"/>
<circle cx="286.4" cy="635.1" r="3.6" fill="#5ab0f0" stroke="#000" stroke-width="0.6"/>
<circle cx="278.3" cy="614.7" r="3.6" fill="#5ab040" stroke="#000" stroke-width="0.6"/>
<circle cx="286.4" cy="616.2" r="3.6" fill="#6a9a20" stroke="#000" stroke-width="0.6"/>
<circle cx="287.7" cy="618.4" r="3.6" fill="#4a8a30" stroke="#000" stroke-width="0.6"/>
<circle cx="276.9" cy="613.3" r="3.6" fill="#5ab040" stroke="#000" stroke-width="0.6"/>
<circle cx="283.5" cy="623.8" r="3.6" fill="#6a9a20" stroke="#000" stroke-width="0.6"/>
<circle cx="277.3" cy="629.7" r="3.6" fill="#4a8a30" stroke="#000" stroke-width="0.6"/>
<circle cx="278.2" cy="626.8" r="3.6" fill="#5ab040" stroke="#000" stroke-width="0.6"/>
<circle cx="279" cy="618.8" r="3.6" fill="#6a9a20" stroke="#000" stroke-width="0.6"/>
<circle cx="286.4" cy="619.6" r="3.6" fill="#4a8a30" stroke="#000" stroke-width="0.6"/>
<circle cx="277.9" cy="634.5" r="3.6" fill="#5ab040" stroke="#000" stroke-width="0.6"/>
<line x1="291.5" y1="612" x2="291.5" y2="640" stroke="#000" stroke-width="0.9"/>
<line x1="283.5" y1="612" x2="299.5" y2="612" stroke="#000" stroke-width="1.0"/>
<line x1="283.5" y1="640" x2="299.5" y2="640" stroke="#000" stroke-width="1.0"/>
<rect x="283.5" y="618" width="16" height="8" fill="#2a8ad8" fill-opacity="0"/>
<rect x="283.5" y="618" width="16" height="8" fill="none" stroke="#000" stroke-width="1.3"/>
<line x1="283.5" y1="622" x2="299.5" y2="622" stroke="#000" stroke-width="1.3"/>
<circle cx="274.2" cy="644.2" r="3.6" fill="#c0f080" stroke="#000" stroke-width="0.6"/>
<circle cx="271.9" cy="636.2" r="3.6" fill="#b0e070" stroke="#000" stroke-width="0.6"/>
<circle cx="280.5" cy="645" r="3.6" fill="#7080e0" stroke="#000" stroke-width="0.6"/>
<circle cx="272.8" cy="642.4" r="3.6" fill="#40d0f0" stroke="#000" stroke-width="0.6"/>
<circle cx="278.1" cy="645.6" r="3.6" fill="#c0f080" stroke="#000" stroke-width="0.6"/>
<circle cx="282.5" cy="642.9" r="3.6" fill="#b0e070" stroke="#000" stroke-width="0.6"/>
<circle cx="275.4" cy="639.6" r="3.6" fill="#7080e0" stroke="#000" stroke-width="0.6"/>
<circle cx="275.7" cy="637.2" r="3.6" fill="#40d0f0" stroke="#000" stroke-width="0.6"/>
<line x1="268" y1="641" x2="292" y2="641" stroke="#000" stroke-width="1"/>
<circle cx="316.2" cy="642.9" r="3.6" fill="#3399ff" stroke="#000" stroke-width="0.6"/>
<circle cx="309.9" cy="622" r="3.6" fill="#2a8ae0" stroke="#000" stroke-width="0.6"/>
<circle cx="320.2" cy="636.7" r="3.6" fill="#40a8ff" stroke="#000" stroke-width="0.6"/>
<circle cx="305" cy="627.5" r="3.6" fill="#3399ff" stroke="#000" stroke-width="0.6"/>
<circle cx="320.9" cy="648" r="3.6" fill="#2a8ae0" stroke="#000" stroke-width="0.6"/>
<circle cx="305.7" cy="636" r="3.6" fill="#40a8ff" stroke="#000" stroke-width="0.6"/>
<circle cx="310.3" cy="629.1" r="3.6" fill="#3399ff" stroke="#000" stroke-width="0.6"/>
<circle cx="312.3" cy="615.2" r="3.6" fill="#2a8ae0" stroke="#000" stroke-width="0.6"/>
<circle cx="314.2" cy="631.3" r="3.6" fill="#40a8ff" stroke="#000" stroke-width="0.6"/>
<circle cx="309.4" cy="622.7" r="3.6" fill="#3399ff" stroke="#000" stroke-width="0.6"/>
<circle cx="307" cy="643" r="3.6" fill="#2a8ae0" stroke="#000" stroke-width="0.6"/>
<circle cx="315" cy="632.1" r="3.6" fill="#40a8ff" stroke="#000" stroke-width="0.6"/>
<circle cx="305.4" cy="618.7" r="3.6" fill="#3399ff" stroke="#000" stroke-width="0.6"/>
<circle cx="314.7" cy="631.1" r="3.6" fill="#2a8ae0" stroke="#000" stroke-width="0.6"/>
<circle cx="305.1" cy="617.9" r="3.6" fill="#40a8ff" stroke="#000" stroke-width="0.6"/>
<circle cx="305.3" cy="631.8" r="3.6" fill="#3399ff" stroke="#000" stroke-width="0.6"/>
<circle cx="318.9" cy="627.8" r="3.6" fill="#2a8ae0" stroke="#000" stroke-width="0.6"/>
<circle cx="315.5" cy="644.1" r="3.6" fill="#40a8ff" stroke="#000" stroke-width="0.6"/>
<circle cx="307.5" cy="635" r="3.6" fill="#3399ff" stroke="#000" stroke-width="0.6"/>
<circle cx="309.3" cy="631.2" r="3.6" fill="#2a8ae0" stroke="#000" stroke-width="0.6"/>
<circle cx="311.9" cy="643.4" r="3.6" fill="#40a8ff" stroke="#000" stroke-width="0.6"/>
<circle cx="318.7" cy="635.8" r="3.6" fill="#3399ff" stroke="#000" stroke-width="0.6"/>
<circle cx="321.8" cy="628.6" r="3.6" fill="#2a8ae0" stroke="#000" stroke-width="0.6"/>
<circle cx="309.9" cy="632.1" r="3.6" fill="#40a8ff" stroke="#000" stroke-width="0.6"/>
<circle cx="317" cy="644.6" r="3.6" fill="#3399ff" stroke="#000" stroke-width="0.6"/>
<circle cx="309.6" cy="612.5" r="3.6" fill="#2a8ae0" stroke="#000" stroke-width="0.6"/>
<circle cx="316.9" cy="640.8" r="3.6" fill="#40a8ff" stroke="#000" stroke-width="0.6"/>
<circle cx="322.1" cy="630.2" r="3.6" fill="#3399ff" stroke="#000" stroke-width="0.6"/>
<circle cx="317.6" cy="624.9" r="3.6" fill="#2a8ae0" stroke="#000" stroke-width="0.6"/>
<circle cx="309.8" cy="625.3" r="3.6" fill="#40a8ff" stroke="#000" stroke-width="0.6"/>
<circle cx="306.6" cy="620" r="3.6" fill="#3399ff" stroke="#000" stroke-width="0.6"/>
<circle cx="308.2" cy="616.8" r="3.6" fill="#2a8ae0" stroke="#000" stroke-width="0.6"/>
<circle cx="335.2" cy="630.4" r="3.6" fill="#1a6a3a" stroke="#000" stroke-width="0.6"/>
<circle cx="324.8" cy="626.4" r="3.6" fill="#0a5a30" stroke="#000" stroke-width="0.6"/>
<circle cx="324.5" cy="627.4" r="3.6" fill="#2a7a40" stroke="#000" stroke-width="0.6"/>
<circle cx="321.5" cy="622.9" r="3.6" fill="#1a6a3a" stroke="#000" stroke-width="0.6"/>
<circle cx="326.7" cy="629.1" r="3.6" fill="#0a5a30" stroke="#000" stroke-width="0.6"/>
<circle cx="325.8" cy="622.3" r="3.6" fill="#2a7a40" stroke="#000" stroke-width="0.6"/>
<circle cx="333.4" cy="624.5" r="3.6" fill="#1a6a3a" stroke="#000" stroke-width="0.6"/>
<circle cx="331.3" cy="633.9" r="3.6" fill="#0a5a30" stroke="#000" stroke-width="0.6"/>
<circle cx="322.3" cy="645.3" r="3.6" fill="#2a7a40" stroke="#000" stroke-width="0.6"/>
<circle cx="326.9" cy="644.6" r="3.6" fill="#1a6a3a" stroke="#000" stroke-width="0.6"/>
<circle cx="340.2" cy="652.2" r="3.6" fill="#40c040" stroke="#000" stroke-width="0.6"/>
<circle cx="338.2" cy="642.4" r="3.6" fill="#50d050" stroke="#000" stroke-width="0.6"/>
<circle cx="329.4" cy="646.1" r="3.6" fill="#30b030" stroke="#000" stroke-width="0.6"/>
<circle cx="332" cy="643.5" r="3.6" fill="#40c040" stroke="#000" stroke-width="0.6"/>
<circle cx="334" cy="648.3" r="3.6" fill="#50d050" stroke="#000" stroke-width="0.6"/>
<circle cx="340" cy="642.7" r="3.6" fill="#30b030" stroke="#000" stroke-width="0.6"/>
<circle cx="339.4" cy="642.4" r="3.6" fill="#40c040" stroke="#000" stroke-width="0.6"/>
<circle cx="331.4" cy="650.7" r="3.6" fill="#50d050" stroke="#000" stroke-width="0.6"/>
<circle cx="335.9" cy="610.4" r="3.6" fill="#40d060" stroke="#000" stroke-width="0.6"/>
<circle cx="338.6" cy="610.1" r="3.6" fill="#30c050" stroke="#000" stroke-width="0.6"/>
<circle cx="333.5" cy="613.2" r="3.6" fill="#2a9a40" stroke="#000" stroke-width="0.6"/>
<circle cx="330.1" cy="605.8" r="3.6" fill="#40d060" stroke="#000" stroke-width="0.6"/>
<circle cx="335.7" cy="619.7" r="3.6" fill="#1a6aa0" stroke="#000" stroke-width="0.6"/>
<circle cx="326.6" cy="641.1" r="3.6" fill="#2070b0" stroke="#000" stroke-width="0.6"/>
<circle cx="326.8" cy="627.8" r="3.6" fill="#1a5a90" stroke="#000" stroke-width="0.6"/>
<circle cx="340.4" cy="642.7" r="3.6" fill="#2a80c0" stroke="#000" stroke-width="0.6"/>
<circle cx="325.4" cy="609.6" r="3.6" fill="#1a6aa0" stroke="#000" stroke-width="0.6"/>
<circle cx="331.9" cy="641.1" r="3.6" fill="#2070b0" stroke="#000" stroke-width="0.6"/>
<circle cx="341.7" cy="621.2" r="3.6" fill="#1a5a90" stroke="#000" stroke-width="0.6"/>
<circle cx="328.3" cy="644.1" r="3.6" fill="#2a80c0" stroke="#000" stroke-width="0.6"/>
<circle cx="340.6" cy="617" r="3.6" fill="#1a6aa0" stroke="#000" stroke-width="0.6"/>
<circle cx="331.9" cy="645.1" r="3.6" fill="#2070b0" stroke="#000" stroke-width="0.6"/>
<circle cx="338.1" cy="623.6" r="3.6" fill="#1a5a90" stroke="#000" stroke-width="0.6"/>
<circle cx="329.6" cy="611.4" r="3.6" fill="#2a80c0" stroke="#000" stroke-width="0.6"/>
<circle cx="326.8" cy="609.3" r="3.6" fill="#1a6aa0" stroke="#000" stroke-width="0.6"/>
<circle cx="329.9" cy="611.8" r="3.6" fill="#2070b0" stroke="#000" stroke-width="0.6"/>
<circle cx="340.7" cy="637.7" r="3.6" fill="#1a5a90" stroke="#000" stroke-width="0.6"/>
<circle cx="327.2" cy="614.2" r="3.6" fill="#2a80c0" stroke="#000" stroke-width="0.6"/>
<circle cx="336" cy="629" r="3.6" fill="#1a6aa0" stroke="#000" stroke-width="0.6"/>
<circle cx="333.7" cy="638.5" r="3.6" fill="#2070b0" stroke="#000" stroke-width="0.6"/>
<circle cx="327" cy="643.6" r="3.6" fill="#1a5a90" stroke="#000" stroke-width="0.6"/>
<circle cx="326.4" cy="625.6" r="3.6" fill="#2a80c0" stroke="#000" stroke-width="0.6"/>
<circle cx="341.8" cy="647.2" r="3.6" fill="#1a6aa0" stroke="#000" stroke-width="0.6"/>
<circle cx="338.6" cy="632.3" r="3.6" fill="#2070b0" stroke="#000" stroke-width="0.6"/>
<circle cx="341.2" cy="629.9" r="3.6" fill="#1a5a90" stroke="#000" stroke-width="0.6"/>
<circle cx="333.4" cy="638.4" r="3.6" fill="#2a80c0" stroke="#000" stroke-width="0.6"/>
<circle cx="336.6" cy="625.6" r="3.6" fill="#1a6aa0" stroke="#000" stroke-width="0.6"/>
<circle cx="331.6" cy="612.3" r="3.6" fill="#2070b0" stroke="#000" stroke-width="0.6"/>
<circle cx="331.3" cy="609.5" r="3.6" fill="#1a5a90" stroke="#000" stroke-width="0.6"/>
<circle cx="333.1" cy="644.3" r="3.6" fill="#2a80c0" stroke="#000" stroke-width="0.6"/>
<circle cx="325.6" cy="636.7" r="3.6" fill="#1a6aa0" stroke="#000" stroke-width="0.6"/>
<circle cx="327.8" cy="607.9" r="3.6" fill="#2070b0" stroke="#000" stroke-width="0.6"/>
<circle cx="327.9" cy="639.5" r="3.6" fill="#1a5a90" stroke="#000" stroke-width="0.6"/>
<circle cx="337.2" cy="612.1" r="3.6" fill="#2a80c0" stroke="#000" stroke-width="0.6"/>
<circle cx="326.9" cy="630" r="3.6" fill="#1a6aa0" stroke="#000" stroke-width="0.6"/>
<circle cx="328.2" cy="627.3" r="3.6" fill="#2070b0" stroke="#000" stroke-width="0.6"/>
<line x1="313" y1="612" x2="313" y2="652" stroke="#000" stroke-width="0.9"/>
<line x1="304.5" y1="612" x2="321.5" y2="612" stroke="#000" stroke-width="1.0"/>
<line x1="304.5" y1="652" x2="321.5" y2="652" stroke="#000" stroke-width="1.0"/>
<rect x="304.5" y="626" width="17" height="8" fill="#3399ff" fill-opacity="0"/>
<rect x="304.5" y="626" width="17" height="8" fill="none" stroke="#000" stroke-width="1.3"/>
<line x1="304.5" y1="630" x2="321.5" y2="630" stroke="#000" stroke-width="1.3"/>
<line x1="333" y1="602" x2="333" y2="650" stroke="#000" stroke-width="0.9"/>
<line x1="324" y1="602" x2="342" y2="602" stroke="#000" stroke-width="1.0"/>
<line x1="324" y1="650" x2="342" y2="650" stroke="#000" stroke-width="1.0"/>
<rect x="324" y="624" width="18" height="10" fill="#1a6aa0" fill-opacity="0"/>
<rect x="324" y="624" width="18" height="10" fill="none" stroke="#000" stroke-width="1.3"/>
<line x1="324" y1="629" x2="342" y2="629" stroke="#000" stroke-width="1.3"/>
<rect x="331" y="595.8" width="7" height="7" fill="#40d060" stroke="#000" stroke-width="0.6"/>
<line x1="303" y1="654" x2="320" y2="654" stroke="#000" stroke-width="1"/>
<line x1="481.5" y1="605" x2="481.5" y2="652" stroke="#000" stroke-width="0.9"/>
<line x1="471" y1="605" x2="492" y2="605" stroke="#000" stroke-width="1.0"/>
<line x1="471" y1="652" x2="492" y2="652" stroke="#000" stroke-width="1.0"/>
<rect x="471" y="624.2" width="21" height="10.4" fill="#7a1fd0" fill-opacity="1"/>
<circle cx="482" cy="626.5" r="3.6" fill="#7a1fd0" stroke="#000" stroke-width="0.6"/>
<circle cx="479.2" cy="648.9" r="3.6" fill="#8a30e0" stroke="#000" stroke-width="0.6"/>
<circle cx="484.9" cy="617.7" r="3.6" fill="#6a10c0" stroke="#000" stroke-width="0.6"/>
<circle cx="487.9" cy="644.2" r="3.6" fill="#7a1fd0" stroke="#000" stroke-width="0.6"/>
<circle cx="489.5" cy="621.7" r="3.6" fill="#8a30e0" stroke="#000" stroke-width="0.6"/>
<circle cx="474.2" cy="617.1" r="3.6" fill="#6a10c0" stroke="#000" stroke-width="0.6"/>
<circle cx="485.8" cy="640.9" r="3.6" fill="#7a1fd0" stroke="#000" stroke-width="0.6"/>
<circle cx="485.5" cy="631.8" r="3.6" fill="#8a30e0" stroke="#000" stroke-width="0.6"/>
<circle cx="490.3" cy="622.8" r="3.6" fill="#6a10c0" stroke="#000" stroke-width="0.6"/>
<circle cx="486.9" cy="627.3" r="3.6" fill="#7a1fd0" stroke="#000" stroke-width="0.6"/>
<circle cx="481.7" cy="645.7" r="3.6" fill="#8a30e0" stroke="#000" stroke-width="0.6"/>
<circle cx="486.9" cy="612.1" r="3.6" fill="#6a10c0" stroke="#000" stroke-width="0.6"/>
<circle cx="476" cy="648.2" r="3.6" fill="#7a1fd0" stroke="#000" stroke-width="0.6"/>
<circle cx="472.6" cy="649.4" r="3.6" fill="#8a30e0" stroke="#000" stroke-width="0.6"/>
<circle cx="489.8" cy="639.7" r="3.6" fill="#6a10c0" stroke="#000" stroke-width="0.6"/>
<circle cx="472.2" cy="648.4" r="3.6" fill="#7a1fd0" stroke="#000" stroke-width="0.6"/>
<circle cx="486.3" cy="647.2" r="3.6" fill="#8a30e0" stroke="#000" stroke-width="0.6"/>
<circle cx="483.2" cy="644.4" r="3.6" fill="#6a10c0" stroke="#000" stroke-width="0.6"/>
<circle cx="484.6" cy="620.6" r="3.6" fill="#7a1fd0" stroke="#000" stroke-width="0.6"/>
<circle cx="477" cy="639.6" r="3.6" fill="#8a30e0" stroke="#000" stroke-width="0.6"/>
<circle cx="487.7" cy="632" r="3.6" fill="#6a10c0" stroke="#000" stroke-width="0.6"/>
<circle cx="478.9" cy="641.5" r="3.6" fill="#7a1fd0" stroke="#000" stroke-width="0.6"/>
<circle cx="489.1" cy="638.7" r="3.6" fill="#8a30e0" stroke="#000" stroke-width="0.6"/>
<circle cx="473.1" cy="644.5" r="3.6" fill="#6a10c0" stroke="#000" stroke-width="0.6"/>
<circle cx="476.7" cy="623.9" r="3.6" fill="#7a1fd0" stroke="#000" stroke-width="0.6"/>
<circle cx="475.4" cy="629.6" r="3.6" fill="#8a30e0" stroke="#000" stroke-width="0.6"/>
<circle cx="486.7" cy="618.3" r="3.6" fill="#6a10c0" stroke="#000" stroke-width="0.6"/>
<circle cx="476.5" cy="628.7" r="3.6" fill="#7a1fd0" stroke="#000" stroke-width="0.6"/>
<circle cx="478.4" cy="617.6" r="3.6" fill="#8a30e0" stroke="#000" stroke-width="0.6"/>
<circle cx="483.9" cy="642.6" r="3.6" fill="#6a10c0" stroke="#000" stroke-width="0.6"/>
<circle cx="487.4" cy="643.1" r="3.6" fill="#7a1fd0" stroke="#000" stroke-width="0.6"/>
<circle cx="472.2" cy="649.7" r="3.6" fill="#8a30e0" stroke="#000" stroke-width="0.6"/>
<circle cx="475.5" cy="638.8" r="3.6" fill="#6a10c0" stroke="#000" stroke-width="0.6"/>
<circle cx="473.1" cy="620.9" r="3.6" fill="#7a1fd0" stroke="#000" stroke-width="0.6"/>
<circle cx="472.4" cy="640.7" r="3.6" fill="#8a30e0" stroke="#000" stroke-width="0.6"/>
<circle cx="475.2" cy="633.5" r="3.6" fill="#6a10c0" stroke="#000" stroke-width="0.6"/>
<circle cx="478" cy="641.1" r="3.6" fill="#7a1fd0" stroke="#000" stroke-width="0.6"/>
<circle cx="490.2" cy="614.5" r="3.6" fill="#8a30e0" stroke="#000" stroke-width="0.6"/>
<circle cx="479.8" cy="620.9" r="3.6" fill="#6a10c0" stroke="#000" stroke-width="0.6"/>
<circle cx="475.6" cy="618.8" r="3.6" fill="#7a1fd0" stroke="#000" stroke-width="0.6"/>
<circle cx="472.4" cy="629.3" r="3.6" fill="#8a30e0" stroke="#000" stroke-width="0.6"/>
<circle cx="483.3" cy="612.3" r="3.6" fill="#6a10c0" stroke="#000" stroke-width="0.6"/>
<circle cx="490.6" cy="626" r="3.6" fill="#7a1fd0" stroke="#000" stroke-width="0.6"/>
<circle cx="471.7" cy="648.5" r="3.6" fill="#8a30e0" stroke="#000" stroke-width="0.6"/>
<circle cx="476.7" cy="635.2" r="3.6" fill="#6a10c0" stroke="#000" stroke-width="0.6"/>
<circle cx="486.2" cy="614.8" r="3.6" fill="#7a1fd0" stroke="#000" stroke-width="0.6"/>
<circle cx="477" cy="627.3" r="3.6" fill="#8a30e0" stroke="#000" stroke-width="0.6"/>
<circle cx="474.7" cy="629.9" r="3.6" fill="#6a10c0" stroke="#000" stroke-width="0.6"/>
<circle cx="478.2" cy="637.1" r="3.6" fill="#7a1fd0" stroke="#000" stroke-width="0.6"/>
<circle cx="483.7" cy="648" r="3.6" fill="#8a30e0" stroke="#000" stroke-width="0.6"/>
<circle cx="490.5" cy="642.7" r="3.6" fill="#6a10c0" stroke="#000" stroke-width="0.6"/>
<circle cx="487.3" cy="615.4" r="3.6" fill="#7a1fd0" stroke="#000" stroke-width="0.6"/>
<circle cx="481.2" cy="627.9" r="3.6" fill="#8a30e0" stroke="#000" stroke-width="0.6"/>
<circle cx="483.9" cy="634" r="3.6" fill="#6a10c0" stroke="#000" stroke-width="0.6"/>
<circle cx="475.3" cy="644.2" r="3.6" fill="#7a1fd0" stroke="#000" stroke-width="0.6"/>
<circle cx="485.5" cy="635.2" r="3.6" fill="#8a30e0" stroke="#000" stroke-width="0.6"/>
<circle cx="474" cy="625.7" r="3.6" fill="#6a10c0" stroke="#000" stroke-width="0.6"/>
<circle cx="472.5" cy="646.3" r="3.6" fill="#7a1fd0" stroke="#000" stroke-width="0.6"/>
<circle cx="483.3" cy="635.7" r="3.6" fill="#8a30e0" stroke="#000" stroke-width="0.6"/>
<circle cx="490.3" cy="636" r="3.6" fill="#6a10c0" stroke="#000" stroke-width="0.6"/>
<rect x="471" y="624.2" width="21" height="10.4" fill="none" stroke="#000" stroke-width="1.6"/>
<line x1="471" y1="629" x2="492" y2="629" stroke="#000" stroke-width="1.6"/>
<line x1="479" y1="597.5" x2="494" y2="597.5" stroke="#000" stroke-width="1"/>
<rect x="482.5" y="597.5" width="7" height="7" fill="#102070" stroke="#000" stroke-width="0.6"/>
<rect x="490.5" y="595" width="7" height="7" fill="#102070" stroke="#000" stroke-width="0.6"/>
<rect x="486.5" y="599.5" width="7" height="7" fill="#102070" stroke="#000" stroke-width="0.6"/>
<rect x="480.5" y="602.5" width="7" height="7" fill="#102070" stroke="#000" stroke-width="0.6"/>
<line x1="486.5" y1="638.4" x2="486.5" y2="675" stroke="#000" stroke-width="0.9"/>
<line x1="476" y1="638.4" x2="497" y2="638.4" stroke="#000" stroke-width="1.0"/>
<line x1="476" y1="675" x2="497" y2="675" stroke="#000" stroke-width="1.0"/>
<rect x="476" y="642" width="21" height="13" fill="#102080" fill-opacity="1"/>
<circle cx="481.5" cy="671" r="3.6" fill="#102080" stroke="#000" stroke-width="0.6"/>
<circle cx="491.8" cy="662.1" r="3.6" fill="#0a1870" stroke="#000" stroke-width="0.6"/>
<circle cx="490.1" cy="654.9" r="3.6" fill="#183090" stroke="#000" stroke-width="0.6"/>
<circle cx="485.4" cy="638.8" r="3.6" fill="#102080" stroke="#000" stroke-width="0.6"/>
<circle cx="491.2" cy="652.3" r="3.6" fill="#0a1870" stroke="#000" stroke-width="0.6"/>
<circle cx="494.1" cy="647.7" r="3.6" fill="#183090" stroke="#000" stroke-width="0.6"/>
<circle cx="490.7" cy="662" r="3.6" fill="#102080" stroke="#000" stroke-width="0.6"/>
<circle cx="486.8" cy="669.8" r="3.6" fill="#0a1870" stroke="#000" stroke-width="0.6"/>
<circle cx="477.7" cy="655.2" r="3.6" fill="#183090" stroke="#000" stroke-width="0.6"/>
<circle cx="491.8" cy="641" r="3.6" fill="#102080" stroke="#000" stroke-width="0.6"/>
<circle cx="490.9" cy="658.6" r="3.6" fill="#0a1870" stroke="#000" stroke-width="0.6"/>
<circle cx="480.4" cy="652.8" r="3.6" fill="#183090" stroke="#000" stroke-width="0.6"/>
<circle cx="494.3" cy="641.8" r="3.6" fill="#102080" stroke="#000" stroke-width="0.6"/>
<circle cx="480.1" cy="663.1" r="3.6" fill="#0a1870" stroke="#000" stroke-width="0.6"/>
<circle cx="480.6" cy="647.8" r="3.6" fill="#183090" stroke="#000" stroke-width="0.6"/>
<circle cx="488.6" cy="648.9" r="3.6" fill="#102080" stroke="#000" stroke-width="0.6"/>
<circle cx="492.5" cy="652.2" r="3.6" fill="#0a1870" stroke="#000" stroke-width="0.6"/>
<circle cx="478.1" cy="640" r="3.6" fill="#183090" stroke="#000" stroke-width="0.6"/>
<circle cx="492.6" cy="664.8" r="3.6" fill="#102080" stroke="#000" stroke-width="0.6"/>
<circle cx="481.6" cy="660.3" r="3.6" fill="#0a1870" stroke="#000" stroke-width="0.6"/>
<circle cx="479.1" cy="658.4" r="3.6" fill="#183090" stroke="#000" stroke-width="0.6"/>
<circle cx="485.5" cy="655.8" r="3.6" fill="#102080" stroke="#000" stroke-width="0.6"/>
<circle cx="491" cy="640.6" r="3.6" fill="#0a1870" stroke="#000" stroke-width="0.6"/>
<circle cx="479.8" cy="669.5" r="3.6" fill="#183090" stroke="#000" stroke-width="0.6"/>
<circle cx="478.7" cy="667.6" r="3.6" fill="#102080" stroke="#000" stroke-width="0.6"/>
<circle cx="492.6" cy="662.5" r="3.6" fill="#0a1870" stroke="#000" stroke-width="0.6"/>
<circle cx="492.1" cy="655.4" r="3.6" fill="#183090" stroke="#000" stroke-width="0.6"/>
<circle cx="487.4" cy="669.8" r="3.6" fill="#102080" stroke="#000" stroke-width="0.6"/>
<circle cx="494.1" cy="658.3" r="3.6" fill="#0a1870" stroke="#000" stroke-width="0.6"/>
<circle cx="490.5" cy="647.6" r="3.6" fill="#183090" stroke="#000" stroke-width="0.6"/>
<circle cx="489.5" cy="662.2" r="3.6" fill="#102080" stroke="#000" stroke-width="0.6"/>
<circle cx="481.9" cy="660.5" r="3.6" fill="#0a1870" stroke="#000" stroke-width="0.6"/>
<circle cx="488.7" cy="668.5" r="3.6" fill="#183090" stroke="#000" stroke-width="0.6"/>
<circle cx="481" cy="649.2" r="3.6" fill="#102080" stroke="#000" stroke-width="0.6"/>
<circle cx="477.9" cy="662.7" r="3.6" fill="#0a1870" stroke="#000" stroke-width="0.6"/>
<circle cx="481.2" cy="656" r="3.6" fill="#183090" stroke="#000" stroke-width="0.6"/>
<rect x="476" y="642" width="21" height="13" fill="none" stroke="#000" stroke-width="1.5"/>
<line x1="476" y1="648" x2="497" y2="648" stroke="#000" stroke-width="1.5"/>
<circle cx="486.5" cy="675" r="3.6" fill="#102080" stroke="#000" stroke-width="0.7"/>
<line x1="510.7" y1="628.9" x2="510.7" y2="670" stroke="#000" stroke-width="0.9"/>
<line x1="499.7" y1="628.9" x2="521.7" y2="628.9" stroke="#000" stroke-width="1.0"/>
<line x1="499.7" y1="670" x2="521.7" y2="670" stroke="#000" stroke-width="1.0"/>
<rect x="499.7" y="633" width="22" height="22" fill="#2a70a0" fill-opacity="1"/>
<circle cx="514.6" cy="659.3" r="3.6" fill="#2a70a0" stroke="#000" stroke-width="0.6"/>
<circle cx="512.7" cy="644.3" r="3.6" fill="#2a80b0" stroke="#000" stroke-width="0.6"/>
<circle cx="502.9" cy="645.5" r="3.6" fill="#1a60a0" stroke="#000" stroke-width="0.6"/>
<circle cx="512.8" cy="643.5" r="3.6" fill="#2a70a0" stroke="#000" stroke-width="0.6"/>
<circle cx="518.7" cy="646.2" r="3.6" fill="#2a80b0" stroke="#000" stroke-width="0.6"/>
<circle cx="511.3" cy="641.9" r="3.6" fill="#1a60a0" stroke="#000" stroke-width="0.6"/>
<circle cx="517.6" cy="642" r="3.6" fill="#2a70a0" stroke="#000" stroke-width="0.6"/>
<circle cx="510.2" cy="659.3" r="3.6" fill="#2a80b0" stroke="#000" stroke-width="0.6"/>
<circle cx="509.7" cy="636" r="3.6" fill="#1a60a0" stroke="#000" stroke-width="0.6"/>
<circle cx="508.4" cy="655.8" r="3.6" fill="#2a70a0" stroke="#000" stroke-width="0.6"/>
<circle cx="516.2" cy="659.3" r="3.6" fill="#2a80b0" stroke="#000" stroke-width="0.6"/>
<circle cx="511.3" cy="634.2" r="3.6" fill="#1a60a0" stroke="#000" stroke-width="0.6"/>
<circle cx="518.5" cy="657.9" r="3.6" fill="#2a70a0" stroke="#000" stroke-width="0.6"/>
<circle cx="503.5" cy="633.6" r="3.6" fill="#2a80b0" stroke="#000" stroke-width="0.6"/>
<circle cx="511" cy="645.7" r="3.6" fill="#1a60a0" stroke="#000" stroke-width="0.6"/>
<circle cx="517.9" cy="638.2" r="3.6" fill="#2a70a0" stroke="#000" stroke-width="0.6"/>
<circle cx="514.3" cy="637.2" r="3.6" fill="#2a80b0" stroke="#000" stroke-width="0.6"/>
<circle cx="502.2" cy="654.1" r="3.6" fill="#1a60a0" stroke="#000" stroke-width="0.6"/>
<circle cx="512.7" cy="631.6" r="3.6" fill="#2a70a0" stroke="#000" stroke-width="0.6"/>
<circle cx="504.9" cy="633.5" r="3.6" fill="#2a80b0" stroke="#000" stroke-width="0.6"/>
<circle cx="510" cy="657.4" r="3.6" fill="#1a60a0" stroke="#000" stroke-width="0.6"/>
<circle cx="518.4" cy="642.4" r="3.6" fill="#2a70a0" stroke="#000" stroke-width="0.6"/>
<circle cx="505.5" cy="644.1" r="3.6" fill="#2a80b0" stroke="#000" stroke-width="0.6"/>
<circle cx="510.5" cy="643.9" r="3.6" fill="#1a60a0" stroke="#000" stroke-width="0.6"/>
<circle cx="516.6" cy="656.1" r="3.6" fill="#2a70a0" stroke="#000" stroke-width="0.6"/>
<circle cx="509.6" cy="636.5" r="3.6" fill="#2a80b0" stroke="#000" stroke-width="0.6"/>
<circle cx="505.4" cy="660.1" r="3.6" fill="#1a60a0" stroke="#000" stroke-width="0.6"/>
<circle cx="509.2" cy="636.4" r="3.6" fill="#2a70a0" stroke="#000" stroke-width="0.6"/>
<circle cx="507.4" cy="659.4" r="3.6" fill="#2a80b0" stroke="#000" stroke-width="0.6"/>
<circle cx="505.7" cy="647.4" r="3.6" fill="#1a60a0" stroke="#000" stroke-width="0.6"/>
<circle cx="507.6" cy="634.7" r="3.6" fill="#2a70a0" stroke="#000" stroke-width="0.6"/>
<circle cx="515.2" cy="644.6" r="3.6" fill="#2a80b0" stroke="#000" stroke-width="0.6"/>
<circle cx="515.9" cy="643.6" r="3.6" fill="#1a60a0" stroke="#000" stroke-width="0.6"/>
<circle cx="503.4" cy="659.5" r="3.6" fill="#2a70a0" stroke="#000" stroke-width="0.6"/>
<circle cx="506.4" cy="652.5" r="3.6" fill="#2a80b0" stroke="#000" stroke-width="0.6"/>
<circle cx="503.4" cy="641.9" r="3.6" fill="#1a60a0" stroke="#000" stroke-width="0.6"/>
<circle cx="517.1" cy="649.2" r="3.6" fill="#2a70a0" stroke="#000" stroke-width="0.6"/>
<circle cx="514.3" cy="640.3" r="3.6" fill="#2a80b0" stroke="#000" stroke-width="0.6"/>
<circle cx="509.4" cy="656" r="3.6" fill="#1a60a0" stroke="#000" stroke-width="0.6"/>
<circle cx="504.1" cy="639.2" r="3.6" fill="#2a70a0" stroke="#000" stroke-width="0.6"/>
<circle cx="507.4" cy="659.7" r="3.6" fill="#2a80b0" stroke="#000" stroke-width="0.6"/>
<circle cx="510.4" cy="651.5" r="3.6" fill="#1a60a0" stroke="#000" stroke-width="0.6"/>
<rect x="499.7" y="633" width="22" height="22" fill="none" stroke="#000" stroke-width="1.4"/>
<line x1="499.7" y1="645" x2="521.7" y2="645" stroke="#000" stroke-width="1.4"/>
<circle cx="504" cy="660" r="3.6" fill="#2020e0" stroke="#000" stroke-width="0.7"/>
<circle cx="510" cy="666" r="3.6" fill="#2020e0" stroke="#000" stroke-width="0.7"/>
<circle cx="516" cy="662" r="3.6" fill="#2020e0" stroke="#000" stroke-width="0.7"/>
<circle cx="507" cy="670" r="3.6" fill="#2020e0" stroke="#000" stroke-width="0.7"/>
<circle cx="514" cy="672" r="3.6" fill="#2020e0" stroke="#000" stroke-width="0.7"/>
<circle cx="501" cy="655" r="3.6" fill="#2020e0" stroke="#000" stroke-width="0.7"/>
<line x1="68" y1="576.8" x2="129.3" y2="576.8" stroke="#ff1010" stroke-width="2.6"/>
<line x1="128.8" y1="620.3" x2="240" y2="620.3" stroke="#ff1010" stroke-width="2.6"/>
<line x1="260.4" y1="631.7" x2="361" y2="631.7" stroke="#ff1010" stroke-width="2.6"/>
<line x1="462.9" y1="646" x2="542.6" y2="646" stroke="#ff1010" stroke-width="2.6"/>
<text x="134" y="559.8" font-size="11.3" textLength="34.5" lengthAdjust="spacingAndGlyphs" fill="#f42828">−8.5‰</text>
<text x="166.1" y="633.9" font-size="11.3" textLength="41" lengthAdjust="spacingAndGlyphs" fill="#f42828">−12.0‰</text>
<text x="363.3" y="635.6" font-size="11.3" textLength="40.2" lengthAdjust="spacingAndGlyphs" fill="#f42828">−13.0‰</text>
<text x="545.4" y="649" font-size="11.3" textLength="40.7" lengthAdjust="spacingAndGlyphs" fill="#f42828">−14.2‰</text>
<rect x="600.6" y="552.9" width="15.1" height="9.3" fill="#effffe"/>
<rect x="600.6" y="561.9" width="15.1" height="9.3" fill="#e6fdf0"/>
<rect x="600.6" y="571" width="15.1" height="9.3" fill="#d6fce0"/>
<rect x="600.6" y="580" width="15.1" height="9.3" fill="#c2f8d8"/>
<rect x="600.6" y="589.1" width="15.1" height="9.3" fill="#a8f0d6"/>
<rect x="600.6" y="598.1" width="15.1" height="9.3" fill="#98ece0"/>
<rect x="600.6" y="607.1" width="15.1" height="9.3" fill="#66f2f0"/>
<rect x="600.6" y="616.2" width="15.1" height="9.3" fill="#30eef4"/>
<rect x="600.6" y="625.2" width="15.1" height="9.3" fill="#08ecf6"/>
<rect x="600.6" y="634.3" width="15.1" height="9.3" fill="#00eaf8"/>
<rect x="600.6" y="552.9" width="15.1" height="90.4" fill="none" stroke="#8a8a8a" stroke-width="1"/>
<line x1="615.7" y1="553.7" x2="620.2" y2="553.7" stroke="#777" stroke-width="1"/>
<text x="625.8" y="558.3" font-size="13">0.0000</text>
<line x1="615.7" y1="589.2" x2="620.2" y2="589.2" stroke="#777" stroke-width="1"/>
<text x="625.8" y="593.8" font-size="13">0.0002</text>
<line x1="615.7" y1="624.5" x2="620.2" y2="624.5" stroke="#777" stroke-width="1"/>
<text x="625.8" y="629.1" font-size="13">0.0004</text>
<text transform="translate(674.5,598.7) rotate(90)" font-size="13" text-anchor="middle">Frequency</text>
</svg></body></html>
